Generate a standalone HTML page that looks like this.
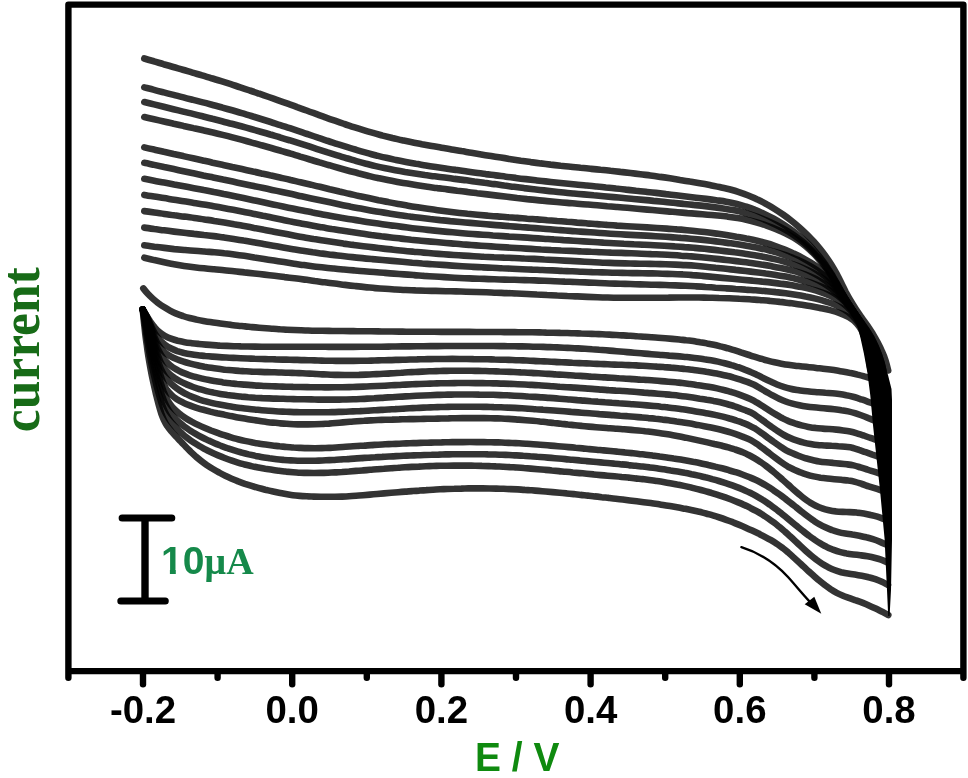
<!DOCTYPE html>
<html lang="en"><head><meta charset="utf-8"><title>Cyclic voltammograms</title>
<style>html,body{margin:0;padding:0;background:#fff}body{width:968px;height:778px;overflow:hidden}svg{display:block}</style>
</head><body>
<svg width="968" height="778" viewBox="0 0 968 778">
<rect width="968" height="778" fill="#fff"/>
<g fill="none" stroke="#000" stroke-opacity="0.8" stroke-width="6.6" stroke-linecap="round" stroke-linejoin="round">
<path d="M144.3 58.5C145.9 59 150.7 60.4 153.9 61.3C157.1 62.3 160.3 63.2 163.5 64.2C166.7 65.1 169.9 66 173.2 67C176.4 67.9 179.6 68.9 182.8 69.8C186 70.7 189.2 71.7 192.4 72.6C195.6 73.5 198.8 74.5 202 75.4C205.2 76.4 208.4 77.3 211.6 78.3C214.8 79.2 218 80.2 221.2 81.2C224.4 82.2 227.6 83.2 230.8 84.2C234 85.2 237.1 86.3 240.3 87.3C243.5 88.3 246.7 89.4 249.8 90.5C253 91.5 256.1 92.6 259.3 93.7C262.5 94.8 265.6 95.9 268.8 97C271.9 98.1 275.1 99.2 278.2 100.3C281.4 101.4 284.5 102.5 287.7 103.7C290.8 104.8 294 105.9 297.1 107.1C300.3 108.2 303.4 109.4 306.6 110.5C309.7 111.7 312.9 112.8 316 113.9C319.1 115.1 322.3 116.2 325.4 117.3C328.6 118.5 331.7 119.6 334.9 120.7C338.1 121.8 341.2 122.9 344.4 124C347.6 125 350.7 126.1 353.9 127.1C357.1 128.1 360.3 129.1 363.5 130.1C366.7 131.1 369.9 132 373.1 132.9C376.3 133.9 379.5 134.7 382.7 135.6C386 136.4 389.2 137.2 392.4 138C395.7 138.7 398.9 139.5 402.2 140.2C405.5 140.9 408.7 141.6 412 142.2C415.3 142.9 418.6 143.5 421.9 144.2C425.1 144.8 428.4 145.4 431.7 146C435 146.6 438.3 147.1 441.6 147.7C444.9 148.3 448.2 148.8 451.5 149.4C454.8 150 458.1 150.5 461.4 151.1C464.7 151.6 468 152.2 471.3 152.7C474.6 153.3 477.9 153.9 481.2 154.4C484.5 155 487.8 155.5 491.1 156C494.4 156.6 497.7 157.1 501 157.6C504.3 158.2 507.6 158.7 510.9 159.2C514.2 159.7 517.5 160.2 520.8 160.7C524.1 161.1 527.4 161.6 530.7 162.1C534.1 162.5 537.4 162.9 540.7 163.4C544 163.8 547.3 164.2 550.6 164.6C553.9 164.9 557.3 165.3 560.6 165.7C563.9 166 567.2 166.4 570.6 166.7C573.9 167.1 577.2 167.4 580.5 167.8C583.9 168.1 587.2 168.4 590.5 168.8C593.8 169.1 597.2 169.4 600.5 169.8C603.8 170.1 607.1 170.4 610.5 170.8C613.8 171.1 617.1 171.5 620.4 171.9C623.7 172.2 627.1 172.6 630.4 173C633.7 173.4 637 173.8 640.3 174.2C643.7 174.6 647 175.1 650.3 175.5C653.6 175.9 656.9 176.4 660.2 176.9C663.5 177.3 666.8 177.8 670.1 178.3C673.4 178.8 676.7 179.3 680 179.9C683.3 180.4 686.6 180.9 689.9 181.5C693.2 182 696.5 182.6 699.8 183.2C703.1 183.8 706.4 184.4 709.7 185C713 185.7 716.3 186.3 719.5 187C722.8 187.8 726.1 188.5 729.3 189.3C732.5 190.2 735.7 191.1 738.9 192.1C742.1 193.2 745.2 194.3 748.3 195.5C751.4 196.8 754.5 198.1 757.5 199.6C760.5 201 763.5 202.5 766.4 204.2C769.3 205.8 772.2 207.5 775 209.2C777.9 211 780.7 212.9 783.4 214.8C786.1 216.7 788.8 218.7 791.4 220.8C794.1 222.9 796.6 225 799.1 227.2C801.7 229.5 804.1 231.7 806.5 234.1C808.9 236.4 811.2 238.9 813.5 241.3C815.7 243.8 817.9 246.3 820 248.9C822.1 251.5 824.2 254.2 826.1 256.9C828 259.6 829.9 262.3 831.7 265.2C833.4 268 835.1 270.9 836.7 273.9C838.2 276.8 839.7 279.8 841.2 282.8C842.7 285.8 844.1 288.8 845.6 291.8C847.2 294.7 848.8 297.7 850.5 300.5C852.2 303.4 854 306.2 855.8 309C857.6 311.8 859.6 314.5 861.5 317.3C863.4 320 865.4 322.7 867.3 325.4C869.2 328.2 871 331 872.8 333.8C874.5 336.7 876.2 339.6 877.7 342.5C879.3 345.5 880.7 348.4 882 351.5C883.4 354.5 884.6 357.6 885.6 360.8C886.6 364 887.8 368.9 888.2 370.5"/>
<path d="M144.3 87.4C145.9 87.8 150.8 89.1 154.1 89.9C157.3 90.8 160.6 91.6 163.8 92.4C167.1 93.3 170.3 94.1 173.6 94.9C176.8 95.8 180.1 96.6 183.4 97.4C186.6 98.3 189.9 99.1 193.1 99.9C196.4 100.7 199.6 101.6 202.9 102.4C206.2 103.2 209.4 104.1 212.7 105C215.9 105.8 219.1 106.7 222.4 107.6C225.6 108.5 228.9 109.4 232.1 110.3C235.3 111.2 238.5 112.2 241.8 113.1C245 114.1 248.2 115 251.4 116C254.6 117 257.8 118 261 119C264.3 120 267.5 121 270.7 122C273.9 123 277.1 124.1 280.3 125.1C283.5 126.1 286.7 127.2 289.9 128.2C293 129.3 296.2 130.4 299.4 131.4C302.6 132.5 305.8 133.6 309 134.6C312.2 135.7 315.4 136.8 318.6 137.9C321.8 138.9 325 140 328.1 141C331.3 142.1 334.5 143.1 337.7 144.2C340.9 145.2 344.1 146.2 347.4 147.2C350.6 148.2 353.8 149.2 357 150.1C360.2 151.1 363.5 152 366.7 152.9C369.9 153.8 373.2 154.6 376.4 155.5C379.7 156.3 382.9 157.1 386.2 157.8C389.5 158.6 392.8 159.3 396 160C399.3 160.7 402.6 161.3 405.9 161.9C409.2 162.6 412.5 163.2 415.8 163.8C419.2 164.3 422.5 164.9 425.8 165.4C429.1 166 432.4 166.5 435.8 167C439.1 167.5 442.4 168 445.7 168.5C449.1 169 452.4 169.5 455.7 169.9C459.1 170.4 462.4 170.9 465.7 171.3C469.1 171.8 472.4 172.3 475.7 172.7C479.1 173.2 482.4 173.6 485.7 174.1C489.1 174.5 492.4 175 495.7 175.4C499.1 175.8 502.4 176.3 505.7 176.7C509 177.1 512.4 177.5 515.7 177.9C519.1 178.4 522.4 178.8 525.7 179.1C529.1 179.5 532.4 179.9 535.7 180.3C539.1 180.7 542.4 181.1 545.7 181.4C549.1 181.8 552.4 182.1 555.8 182.5C559.1 182.8 562.5 183.2 565.8 183.5C569.1 183.8 572.5 184.2 575.8 184.5C579.2 184.8 582.5 185.2 585.9 185.5C589.2 185.8 592.6 186.1 595.9 186.5C599.2 186.8 602.6 187.1 605.9 187.5C609.3 187.8 612.6 188.1 616 188.5C619.3 188.8 622.6 189.2 626 189.6C629.3 189.9 632.7 190.3 636 190.7C639.3 191 642.7 191.4 646 191.8C649.4 192.2 652.7 192.6 656 192.9C659.4 193.3 662.7 193.7 666 194.1C669.4 194.5 672.7 194.9 676.1 195.3C679.4 195.7 682.7 196.1 686.1 196.5C689.4 196.9 692.7 197.3 696.1 197.7C699.4 198.1 702.8 198.5 706.1 198.9C709.5 199.3 712.8 199.7 716.1 200.2C719.5 200.7 722.8 201.1 726.1 201.7C729.4 202.3 732.7 203 736 203.7C739.2 204.5 742.4 205.4 745.6 206.5C748.8 207.5 752 208.6 755.1 209.9C758.2 211.1 761.3 212.5 764.3 213.9C767.4 215.4 770.4 216.9 773.3 218.5C776.3 220.2 779.2 221.9 782 223.6C784.9 225.4 787.7 227.3 790.4 229.2C793.2 231.2 795.9 233.2 798.5 235.4C801.1 237.5 803.6 239.7 806 242C808.5 244.3 810.8 246.8 813.1 249.2C815.4 251.7 817.5 254.3 819.6 256.9C821.7 259.6 823.7 262.3 825.7 265C827.6 267.8 829.4 270.6 831.2 273.5C832.9 276.4 834.5 279.4 836.2 282.3C837.8 285.2 839.3 288.2 841 291.2C842.6 294.1 844.2 297 846 299.9C847.7 302.8 849.6 305.6 851.4 308.4C853.3 311.2 855.3 313.9 857.3 316.6C859.2 319.3 861.2 322 863.1 324.8C865 327.6 866.9 330.3 868.7 333.2C870.4 336.1 872 339 873.5 342C875 345 876.3 348.1 877.5 351.2C878.7 354.3 879.8 357.5 880.8 360.7C881.8 363.9 882.9 368.9 883.3 370.5"/>
<path d="M144.3 102C145.9 102.4 150.8 103.6 154 104.4C157.3 105.2 160.5 106 163.7 106.8C167 107.6 170.2 108.4 173.4 109.2C176.7 110 179.9 110.8 183.2 111.6C186.4 112.4 189.6 113.1 192.9 113.9C196.1 114.7 199.4 115.5 202.6 116.3C205.8 117.1 209.1 117.9 212.3 118.8C215.5 119.6 218.8 120.4 222 121.2C225.2 122.1 228.4 122.9 231.7 123.8C234.9 124.6 238.1 125.5 241.3 126.3C244.5 127.2 247.8 128.1 251 129C254.2 129.9 257.4 130.8 260.6 131.7C263.8 132.6 267 133.5 270.2 134.5C273.4 135.4 276.6 136.4 279.8 137.3C283 138.3 286.2 139.3 289.4 140.2C292.6 141.2 295.8 142.2 298.9 143.2C302.1 144.2 305.3 145.2 308.5 146.2C311.7 147.3 314.9 148.3 318 149.3C321.2 150.3 324.4 151.3 327.6 152.4C330.8 153.4 333.9 154.4 337.1 155.4C340.3 156.4 343.5 157.3 346.7 158.3C349.9 159.2 353.1 160.2 356.3 161.1C359.5 162 362.7 162.9 366 163.7C369.2 164.5 372.4 165.4 375.6 166.1C378.9 166.9 382.1 167.6 385.4 168.3C388.6 169 391.9 169.6 395.2 170.2C398.5 170.8 401.7 171.4 405 172C408.3 172.5 411.6 173 414.9 173.5C418.2 174 421.5 174.5 424.8 175C428.1 175.4 431.4 175.9 434.7 176.3C438 176.7 441.4 177.2 444.7 177.6C448 178 451.3 178.4 454.6 178.9C457.9 179.3 461.2 179.7 464.6 180.1C467.9 180.6 471.2 181 474.5 181.5C477.8 181.9 481.1 182.3 484.4 182.8C487.7 183.2 491 183.7 494.3 184.1C497.6 184.6 500.9 185 504.2 185.5C507.5 185.9 510.8 186.4 514.1 186.8C517.5 187.2 520.8 187.6 524.1 188.1C527.4 188.5 530.7 188.9 534 189.3C537.3 189.7 540.6 190.1 543.9 190.4C547.2 190.8 550.5 191.2 553.9 191.5C557.2 191.9 560.5 192.2 563.8 192.5C567.1 192.9 570.5 193.2 573.8 193.5C577.1 193.8 580.4 194.1 583.7 194.4C587.1 194.7 590.4 195 593.7 195.3C597 195.6 600.3 195.9 603.7 196.2C607 196.5 610.3 196.8 613.6 197.1C616.9 197.4 620.3 197.7 623.6 198C626.9 198.3 630.2 198.7 633.6 199C636.9 199.3 640.2 199.6 643.5 199.9C646.8 200.2 650.1 200.5 653.5 200.9C656.8 201.2 660.1 201.5 663.4 201.8C666.7 202.2 670.1 202.5 673.4 202.8C676.7 203.2 680 203.5 683.3 203.9C686.6 204.2 690 204.5 693.3 204.9C696.6 205.2 699.9 205.6 703.2 205.9C706.6 206.3 709.9 206.7 713.2 207.1C716.5 207.5 719.8 207.9 723.1 208.4C726.4 208.9 729.7 209.4 733 210C736.2 210.7 739.5 211.4 742.7 212.2C745.9 213.1 749.1 214.1 752.3 215.1C755.5 216.2 758.6 217.3 761.7 218.5C764.8 219.8 767.9 221.1 770.9 222.5C774 223.9 777 225.3 779.9 226.9C782.9 228.5 785.8 230.1 788.6 231.8C791.5 233.6 794.2 235.4 796.9 237.4C799.6 239.3 802.2 241.4 804.8 243.6C807.3 245.8 809.7 248.1 812 250.4C814.4 252.8 816.6 255.3 818.8 257.8C821 260.4 823.1 263 825.1 265.7C827.1 268.4 829 271.1 830.8 273.9C832.6 276.8 834.4 279.6 836.1 282.5C837.8 285.4 839.3 288.4 841 291.3C842.7 294.2 844.3 297.1 846 299.9C847.7 302.8 849.5 305.6 851.4 308.3C853.2 311.1 855.2 313.8 857.1 316.6C859 319.3 860.9 322 862.8 324.8C864.6 327.6 866.4 330.3 868.1 333.2C869.7 336.1 871.3 339.1 872.7 342.1C874.1 345.1 875.3 348.2 876.5 351.3C877.6 354.4 878.6 357.6 879.6 360.8C880.5 364 881.6 368.9 882 370.5"/>
<path d="M144.3 117C145.9 117.4 150.8 118.5 154.1 119.2C157.4 120 160.6 120.7 163.9 121.5C167.2 122.2 170.5 122.9 173.7 123.7C177 124.4 180.3 125.1 183.5 125.9C186.8 126.6 190.1 127.3 193.4 128.1C196.6 128.8 199.9 129.5 203.2 130.3C206.4 131 209.7 131.8 213 132.5C216.2 133.3 219.5 134.1 222.7 134.9C226 135.7 229.2 136.5 232.5 137.4C235.7 138.2 239 139.1 242.2 139.9C245.4 140.8 248.7 141.7 251.9 142.6C255.1 143.4 258.4 144.3 261.6 145.3C264.8 146.2 268 147.1 271.3 148C274.5 149 277.7 149.9 280.9 150.8C284.1 151.8 287.4 152.7 290.6 153.7C293.8 154.7 297 155.6 300.2 156.6C303.4 157.5 306.7 158.5 309.9 159.5C313.1 160.4 316.3 161.4 319.5 162.4C322.7 163.3 325.9 164.3 329.2 165.2C332.4 166.2 335.6 167.1 338.8 168C342.1 168.9 345.3 169.8 348.5 170.7C351.8 171.6 355 172.4 358.2 173.3C361.5 174.1 364.7 174.9 368 175.7C371.3 176.5 374.5 177.3 377.8 178C381.1 178.7 384.3 179.4 387.6 180C390.9 180.7 394.2 181.3 397.5 181.9C400.8 182.5 404.1 183.1 407.4 183.6C410.7 184.2 414 184.7 417.3 185.2C420.6 185.7 424 186.2 427.3 186.7C430.6 187.2 433.9 187.6 437.2 188.1C440.6 188.5 443.9 189 447.2 189.4C450.6 189.8 453.9 190.2 457.2 190.7C460.5 191.1 463.9 191.5 467.2 191.9C470.5 192.4 473.9 192.8 477.2 193.2C480.5 193.6 483.8 194 487.2 194.4C490.5 194.8 493.8 195.2 497.2 195.6C500.5 196 503.8 196.4 507.1 196.8C510.5 197.2 513.8 197.6 517.1 198C520.5 198.3 523.8 198.7 527.1 199.1C530.5 199.4 533.8 199.8 537.1 200.1C540.5 200.4 543.8 200.8 547.1 201.1C550.5 201.4 553.8 201.7 557.1 202C560.5 202.3 563.8 202.6 567.2 202.9C570.5 203.2 573.8 203.4 577.2 203.7C580.5 204 583.9 204.3 587.2 204.5C590.6 204.8 593.9 205.1 597.2 205.3C600.6 205.6 603.9 205.9 607.3 206.2C610.6 206.4 613.9 206.7 617.3 207C620.6 207.3 624 207.6 627.3 207.8C630.6 208.1 634 208.4 637.3 208.7C640.7 209 644 209.3 647.3 209.6C650.7 209.9 654 210.2 657.4 210.5C660.7 210.8 664 211.1 667.4 211.4C670.7 211.7 674.1 211.9 677.4 212.2C680.7 212.5 684.1 212.8 687.4 213.1C690.8 213.3 694.1 213.6 697.4 213.9C700.8 214.2 704.1 214.4 707.5 214.7C710.8 214.9 714.2 215.2 717.5 215.5C720.9 215.8 724.2 216.1 727.5 216.6C730.8 217 734.2 217.4 737.5 218C740.8 218.5 744.1 219.2 747.3 220C750.6 220.7 753.8 221.6 757 222.5C760.3 223.5 763.5 224.5 766.6 225.6C769.8 226.7 773 227.9 776.1 229.2C779.2 230.5 782.3 231.8 785.3 233.3C788.3 234.8 791.2 236.3 794.1 238C797 239.8 799.7 241.6 802.4 243.6C805 245.6 807.6 247.8 810 250C812.5 252.3 814.8 254.7 817.1 257.2C819.3 259.7 821.5 262.3 823.6 264.9C825.6 267.6 827.6 270.3 829.6 273.1C831.5 275.9 833.3 278.8 835.1 281.7C836.9 284.5 838.6 287.5 840.4 290.4C842.1 293.3 843.7 296.2 845.5 299C847.2 301.9 849 304.8 850.8 307.6C852.7 310.4 854.6 313.1 856.5 315.9C858.3 318.7 860.2 321.5 862 324.3C863.8 327.1 865.6 329.9 867.2 332.8C868.9 335.8 870.4 338.8 871.7 341.8C873.1 344.8 874.3 348 875.4 351.1C876.5 354.3 877.5 357.5 878.4 360.7C879.3 363.9 880.4 368.9 880.8 370.5"/>
<path d="M144.3 147.4C145.9 147.8 150.8 148.9 154.1 149.6C157.3 150.3 160.6 151 163.8 151.8C167.1 152.5 170.3 153.2 173.6 154C176.8 154.7 180.1 155.4 183.3 156.1C186.6 156.9 189.8 157.6 193.1 158.3C196.4 159.1 199.6 159.8 202.9 160.5C206.1 161.2 209.4 161.9 212.6 162.7C215.9 163.4 219.1 164.1 222.4 164.8C225.6 165.5 228.9 166.2 232.2 167C235.4 167.7 238.7 168.4 241.9 169.1C245.2 169.8 248.4 170.5 251.7 171.2C255 172 258.2 172.7 261.5 173.4C264.7 174.1 268 174.8 271.2 175.6C274.5 176.3 277.7 177 281 177.8C284.2 178.5 287.5 179.2 290.7 180C294 180.7 297.2 181.5 300.5 182.2C303.7 183 307 183.8 310.2 184.5C313.5 185.3 316.7 186.1 320 186.8C323.2 187.6 326.4 188.4 329.7 189.2C332.9 189.9 336.2 190.7 339.4 191.5C342.7 192.2 345.9 193 349.2 193.7C352.4 194.5 355.7 195.2 358.9 196C362.2 196.7 365.4 197.4 368.7 198.1C371.9 198.8 375.2 199.5 378.5 200.2C381.7 200.8 385 201.5 388.3 202.1C391.5 202.8 394.8 203.4 398.1 204C401.4 204.6 404.7 205.1 408 205.7C411.2 206.3 414.5 206.8 417.8 207.3C421.1 207.9 424.4 208.4 427.7 208.8C431 209.3 434.3 209.8 437.6 210.2C440.9 210.7 444.2 211.1 447.5 211.5C450.9 211.9 454.2 212.3 457.5 212.7C460.8 213.1 464.1 213.4 467.4 213.8C470.7 214.1 474.1 214.4 477.4 214.7C480.7 215 484 215.3 487.3 215.6C490.7 215.9 494 216.2 497.3 216.4C500.6 216.7 504 216.9 507.3 217.2C510.6 217.4 513.9 217.7 517.3 217.9C520.6 218.2 523.9 218.4 527.2 218.7C530.6 218.9 533.9 219.2 537.2 219.4C540.5 219.7 543.9 219.9 547.2 220.2C550.5 220.4 553.8 220.7 557.1 221C560.5 221.2 563.8 221.5 567.1 221.8C570.4 222 573.8 222.3 577.1 222.6C580.4 222.8 583.7 223.1 587.1 223.4C590.4 223.6 593.7 223.9 597 224.1C600.4 224.4 603.7 224.6 607 224.9C610.3 225.1 613.7 225.3 617 225.6C620.3 225.8 623.6 226 627 226.2C630.3 226.4 633.6 226.6 637 226.8C640.3 227 643.6 227.2 646.9 227.4C650.3 227.6 653.6 227.8 656.9 228C660.3 228.2 663.6 228.4 666.9 228.6C670.2 228.9 673.6 229.1 676.9 229.4C680.2 229.6 683.5 229.9 686.8 230.2C690.2 230.5 693.5 230.8 696.8 231.2C700.1 231.6 703.4 231.9 706.7 232.3C710 232.8 713.3 233.2 716.6 233.6C719.9 234.1 723.3 234.6 726.5 235.1C729.8 235.6 733.1 236.1 736.4 236.7C739.7 237.2 743 237.8 746.3 238.5C749.5 239.1 752.8 239.8 756.1 240.5C759.3 241.3 762.5 242.1 765.7 243C769 243.9 772.1 244.9 775.3 246C778.5 247.1 781.6 248.2 784.7 249.5C787.8 250.8 790.8 252.1 793.8 253.6C796.9 255 799.9 256.5 802.8 258.1C805.7 259.7 808.7 261.3 811.5 263.1C814.3 264.8 817 266.7 819.7 268.7C822.3 270.8 824.8 273 827.1 275.3C829.5 277.6 831.7 280.1 833.9 282.6C836 285.1 838 287.8 839.9 290.5C841.9 293.3 843.6 296.1 845.4 298.9C847.3 301.7 849 304.5 850.8 307.3C852.7 310.1 854.5 312.9 856.3 315.7C858.1 318.5 860 321.3 861.7 324.1C863.5 327 865.1 329.9 866.7 332.8C868.2 335.8 869.6 338.8 870.9 341.8C872.2 344.9 873.3 348 874.4 351.2C875.4 354.3 876.4 357.5 877.3 360.7C878.1 364 879.1 368.9 879.5 370.5"/>
<path d="M144.3 162.8C145.9 163.1 150.9 164.2 154.1 164.9C157.4 165.6 160.7 166.3 164 167C167.2 167.7 170.5 168.4 173.8 169.1C177.1 169.8 180.3 170.5 183.6 171.2C186.9 171.9 190.2 172.6 193.5 173.3C196.7 174 200 174.7 203.3 175.4C206.6 176 209.8 176.7 213.1 177.4C216.4 178.1 219.7 178.8 223 179.5C226.2 180.2 229.5 180.9 232.8 181.6C236.1 182.3 239.3 183 242.6 183.7C245.9 184.4 249.2 185.1 252.5 185.8C255.7 186.5 259 187.2 262.3 187.8C265.6 188.5 268.8 189.2 272.1 189.9C275.4 190.6 278.7 191.3 282 192C285.2 192.7 288.5 193.4 291.8 194.1C295.1 194.8 298.3 195.6 301.6 196.3C304.9 197 308.2 197.7 311.4 198.4C314.7 199.1 318 199.8 321.3 200.5C324.5 201.2 327.8 201.9 331.1 202.6C334.4 203.3 337.7 204 340.9 204.7C344.2 205.4 347.5 206 350.8 206.7C354.1 207.3 357.4 208 360.7 208.6C363.9 209.2 367.2 209.8 370.5 210.4C373.8 211 377.1 211.6 380.4 212.1C383.7 212.7 387.1 213.2 390.4 213.7C393.7 214.2 397 214.7 400.3 215.2C403.6 215.7 406.9 216.1 410.3 216.6C413.6 217 416.9 217.4 420.2 217.8C423.6 218.2 426.9 218.6 430.2 219C433.6 219.3 436.9 219.7 440.2 220.1C443.6 220.4 446.9 220.7 450.2 221.1C453.6 221.4 456.9 221.7 460.2 222C463.6 222.3 466.9 222.6 470.3 222.9C473.6 223.2 476.9 223.5 480.3 223.8C483.6 224.1 486.9 224.4 490.3 224.6C493.6 224.9 497 225.2 500.3 225.4C503.6 225.7 507 226 510.3 226.2C513.7 226.5 517 226.7 520.4 227C523.7 227.3 527 227.5 530.4 227.8C533.7 228 537.1 228.3 540.4 228.5C543.7 228.8 547.1 229.1 550.4 229.3C553.8 229.6 557.1 229.8 560.4 230.1C563.8 230.4 567.1 230.6 570.5 230.9C573.8 231.1 577.1 231.4 580.5 231.6C583.8 231.9 587.2 232.1 590.5 232.3C593.8 232.6 597.2 232.8 600.5 233C603.9 233.3 607.2 233.5 610.6 233.7C613.9 233.9 617.3 234.1 620.6 234.3C623.9 234.5 627.3 234.7 630.6 234.9C634 235.1 637.3 235.2 640.7 235.4C644 235.6 647.4 235.8 650.7 235.9C654.1 236.1 657.4 236.3 660.8 236.5C664.1 236.7 667.5 236.9 670.8 237.1C674.1 237.4 677.5 237.6 680.8 237.9C684.2 238.1 687.5 238.4 690.8 238.7C694.2 239 697.5 239.3 700.8 239.6C704.2 240 707.5 240.4 710.8 240.8C714.1 241.2 717.5 241.6 720.8 242C724.1 242.4 727.4 242.9 730.8 243.3C734.1 243.8 737.4 244.3 740.7 244.8C744 245.3 747.3 245.9 750.6 246.5C753.9 247.1 757.2 247.7 760.5 248.4C763.8 249.1 767 249.9 770.3 250.7C773.5 251.6 776.8 252.5 780 253.5C783.2 254.5 786.4 255.5 789.5 256.7C792.7 257.8 795.8 259.1 798.9 260.4C801.9 261.8 805 263.2 807.9 264.8C810.9 266.4 813.8 268.1 816.5 269.9C819.3 271.8 822 273.8 824.6 275.9C827.1 278 829.6 280.3 831.9 282.7C834.3 285.1 836.5 287.6 838.6 290.2C840.7 292.8 842.7 295.5 844.7 298.2C846.6 301 848.4 303.8 850.3 306.6C852.1 309.4 854 312.2 855.8 315.1C857.6 317.9 859.4 320.7 861.1 323.6C862.7 326.5 864.4 329.4 865.9 332.4C867.4 335.4 868.7 338.4 870 341.5C871.2 344.6 872.3 347.8 873.3 351C874.3 354.2 875.2 357.4 876 360.7C876.9 363.9 877.9 368.9 878.2 370.5"/>
<path d="M144.3 178.8C146 179.1 150.9 180.1 154.2 180.7C157.5 181.3 160.8 182 164.1 182.6C167.4 183.2 170.8 183.8 174.1 184.5C177.4 185.1 180.7 185.7 184 186.3C187.3 187 190.6 187.6 193.9 188.2C197.2 188.8 200.5 189.4 203.8 190.1C207.1 190.7 210.5 191.3 213.8 192C217.1 192.6 220.4 193.3 223.7 194C227 194.6 230.3 195.3 233.6 196C236.9 196.7 240.1 197.4 243.4 198.1C246.7 198.8 250 199.5 253.3 200.2C256.6 200.9 259.9 201.6 263.2 202.3C266.5 203 269.8 203.7 273.1 204.4C276.4 205.1 279.7 205.8 283 206.5C286.2 207.2 289.5 207.9 292.8 208.5C296.1 209.2 299.4 209.9 302.7 210.5C306 211.2 309.3 211.8 312.7 212.5C316 213.1 319.3 213.8 322.6 214.4C325.9 215 329.2 215.6 332.5 216.2C335.8 216.8 339.1 217.4 342.5 217.9C345.8 218.5 349.1 219.1 352.4 219.6C355.7 220.2 359.1 220.7 362.4 221.2C365.7 221.8 369 222.3 372.4 222.8C375.7 223.3 379 223.8 382.4 224.2C385.7 224.7 389 225.2 392.4 225.6C395.7 226.1 399 226.5 402.4 226.9C405.7 227.3 409.1 227.8 412.4 228.2C415.8 228.6 419.1 228.9 422.5 229.3C425.8 229.7 429.1 230 432.5 230.4C435.8 230.7 439.2 231.1 442.5 231.4C445.9 231.7 449.2 232 452.6 232.3C456 232.6 459.3 232.9 462.7 233.2C466 233.5 469.4 233.8 472.7 234C476.1 234.3 479.4 234.5 482.8 234.8C486.2 235 489.5 235.2 492.9 235.5C496.2 235.7 499.6 235.9 503 236.1C506.3 236.4 509.7 236.6 513 236.8C516.4 237 519.8 237.2 523.1 237.4C526.5 237.7 529.8 237.9 533.2 238.1C536.6 238.3 539.9 238.5 543.3 238.7C546.6 238.9 550 239.2 553.4 239.4C556.7 239.6 560.1 239.8 563.4 240.1C566.8 240.3 570.1 240.5 573.5 240.7C576.9 241 580.2 241.2 583.6 241.4C586.9 241.6 590.3 241.8 593.7 242C597 242.3 600.4 242.5 603.7 242.7C607.1 242.9 610.5 243.1 613.8 243.2C617.2 243.4 620.6 243.6 623.9 243.8C627.3 243.9 630.6 244.1 634 244.3C637.4 244.4 640.7 244.6 644.1 244.7C647.5 244.9 650.8 245.1 654.2 245.2C657.6 245.4 660.9 245.6 664.3 245.8C667.6 246 671 246.2 674.4 246.4C677.7 246.6 681.1 246.8 684.4 247.1C687.8 247.3 691.1 247.6 694.5 247.9C697.8 248.2 701.2 248.5 704.5 248.8C707.9 249.2 711.2 249.5 714.6 249.9C717.9 250.3 721.3 250.7 724.6 251.1C728 251.5 731.3 251.9 734.6 252.3C738 252.7 741.3 253.2 744.7 253.7C748 254.2 751.3 254.7 754.6 255.2C758 255.8 761.3 256.4 764.6 257C767.9 257.7 771.2 258.4 774.5 259.1C777.8 259.9 781 260.7 784.3 261.7C787.5 262.6 790.7 263.6 793.9 264.7C797.1 265.8 800.3 267 803.4 268.3C806.5 269.6 809.6 271 812.5 272.5C815.5 274.1 818.4 275.7 821.2 277.6C824 279.4 826.7 281.4 829.3 283.6C831.9 285.7 834.4 288 836.8 290.4C839.2 292.8 841.4 295.3 843.6 297.9C845.7 300.5 847.7 303.2 849.7 306C851.6 308.7 853.5 311.5 855.3 314.4C857.1 317.2 858.9 320.1 860.6 323C862.2 326 863.8 328.9 865.2 332C866.6 335 867.9 338.1 869.1 341.3C870.2 344.4 871.3 347.6 872.2 350.8C873.2 354.1 874.1 357.3 874.9 360.6C875.6 363.9 876.6 368.8 876.9 370.5"/>
<path d="M144.3 194.9C145.9 195.2 150.9 196 154.2 196.5C157.5 197 160.8 197.6 164.1 198.1C167.4 198.6 170.7 199.2 174 199.7C177.3 200.2 180.6 200.8 183.9 201.3C187.2 201.8 190.5 202.4 193.8 202.9C197.1 203.4 200.4 204 203.7 204.5C207 205.1 210.3 205.6 213.6 206.2C216.9 206.8 220.1 207.4 223.4 208C226.7 208.6 230 209.2 233.3 209.8C236.6 210.5 239.8 211.1 243.1 211.8C246.4 212.4 249.7 213.1 252.9 213.7C256.2 214.4 259.5 215.1 262.8 215.8C266 216.4 269.3 217.1 272.6 217.8C275.9 218.5 279.1 219.1 282.4 219.8C285.7 220.5 289 221.1 292.2 221.8C295.5 222.4 298.8 223.1 302.1 223.7C305.4 224.3 308.6 224.9 311.9 225.5C315.2 226.1 318.5 226.7 321.8 227.3C325.1 227.9 328.4 228.4 331.7 229C335 229.5 338.3 230.1 341.6 230.6C344.9 231.1 348.2 231.6 351.5 232.1C354.8 232.6 358.1 233.1 361.4 233.6C364.7 234.1 368 234.5 371.3 235C374.7 235.4 378 235.8 381.3 236.3C384.6 236.7 387.9 237.1 391.2 237.5C394.6 237.9 397.9 238.2 401.2 238.6C404.5 239 407.8 239.3 411.2 239.7C414.5 240 417.8 240.4 421.1 240.7C424.5 241 427.8 241.3 431.1 241.6C434.4 241.9 437.8 242.2 441.1 242.5C444.4 242.8 447.8 243.1 451.1 243.4C454.4 243.7 457.8 243.9 461.1 244.2C464.4 244.5 467.8 244.7 471.1 245C474.4 245.2 477.8 245.5 481.1 245.7C484.4 245.9 487.8 246.2 491.1 246.4C494.4 246.6 497.8 246.9 501.1 247.1C504.4 247.3 507.8 247.5 511.1 247.7C514.4 247.9 517.8 248.1 521.1 248.3C524.4 248.5 527.8 248.7 531.1 248.9C534.4 249.1 537.8 249.3 541.1 249.5C544.5 249.6 547.8 249.8 551.1 250C554.5 250.1 557.8 250.3 561.1 250.5C564.5 250.6 567.8 250.8 571.2 250.9C574.5 251.1 577.8 251.2 581.2 251.4C584.5 251.5 587.8 251.6 591.2 251.8C594.5 251.9 597.9 252.1 601.2 252.2C604.5 252.3 607.9 252.4 611.2 252.6C614.6 252.7 617.9 252.8 621.2 252.9C624.6 253.1 627.9 253.2 631.3 253.3C634.6 253.4 638 253.5 641.3 253.7C644.6 253.8 648 253.9 651.3 254.1C654.7 254.2 658 254.4 661.3 254.5C664.7 254.7 668 254.9 671.3 255C674.7 255.2 678 255.4 681.3 255.7C684.7 255.9 688 256.2 691.3 256.4C694.7 256.7 698 257 701.3 257.3C704.6 257.6 708 258 711.3 258.3C714.6 258.7 717.9 259 721.3 259.4C724.6 259.8 727.9 260.1 731.2 260.5C734.5 260.9 737.9 261.3 741.2 261.7C744.5 262.1 747.8 262.6 751.1 263C754.4 263.5 757.7 264 761 264.5C764.4 265 767.7 265.5 771 266.1C774.2 266.7 777.5 267.3 780.8 268C784.1 268.7 787.4 269.4 790.6 270.2C793.8 271.1 797.1 272 800.3 273C803.4 274 806.6 275.1 809.7 276.4C812.8 277.7 815.8 279 818.8 280.6C821.7 282.2 824.6 283.9 827.4 285.7C830.2 287.6 832.8 289.6 835.4 291.8C838 293.9 840.4 296.2 842.7 298.6C845 301.1 847.2 303.6 849.3 306.2C851.4 308.9 853.3 311.6 855.1 314.4C856.9 317.2 858.7 320.1 860.3 323.1C861.9 326 863.4 329 864.7 332C866 335.1 867.2 338.2 868.3 341.3C869.4 344.5 870.3 347.7 871.2 350.9C872.1 354.1 872.9 357.4 873.7 360.6C874.4 363.9 875.3 368.9 875.7 370.5"/>
<path d="M144.3 211.1C146 211.3 151 212 154.3 212.5C157.6 213 160.9 213.4 164.3 213.9C167.6 214.4 170.9 214.8 174.3 215.3C177.6 215.7 180.9 216.2 184.3 216.6C187.6 217.1 190.9 217.5 194.3 218C197.6 218.5 200.9 218.9 204.3 219.4C207.6 219.9 210.9 220.3 214.2 220.9C217.6 221.4 220.9 221.9 224.2 222.4C227.5 223 230.8 223.6 234.1 224.2C237.4 224.7 240.7 225.4 244.1 226C247.4 226.6 250.7 227.2 254 227.9C257.3 228.5 260.6 229.1 263.9 229.8C267.2 230.4 270.5 231.1 273.8 231.7C277.1 232.4 280.4 233 283.7 233.6C287 234.3 290.3 234.9 293.6 235.5C296.9 236.1 300.2 236.7 303.5 237.3C306.8 237.9 310.1 238.4 313.5 239C316.8 239.5 320.1 240.1 323.4 240.6C326.7 241.1 330.1 241.6 333.4 242.1C336.7 242.6 340 243.1 343.4 243.6C346.7 244 350 244.5 353.4 244.9C356.7 245.4 360 245.8 363.4 246.2C366.7 246.6 370.1 247 373.4 247.4C376.7 247.8 380.1 248.2 383.4 248.6C386.8 249 390.1 249.3 393.4 249.7C396.8 250.1 400.1 250.4 403.5 250.7C406.8 251.1 410.2 251.4 413.5 251.7C416.9 252 420.2 252.4 423.6 252.6C426.9 252.9 430.3 253.2 433.6 253.5C437 253.8 440.3 254 443.7 254.3C447 254.5 450.4 254.8 453.7 255C457.1 255.2 460.4 255.4 463.8 255.6C467.2 255.8 470.5 256 473.9 256.2C477.2 256.4 480.6 256.5 484 256.7C487.3 256.8 490.7 257 494 257.2C497.4 257.3 500.7 257.4 504.1 257.6C507.5 257.7 510.8 257.9 514.2 258C517.5 258.2 520.9 258.3 524.3 258.5C527.6 258.6 531 258.8 534.3 258.9C537.7 259.1 541.1 259.3 544.4 259.5C547.8 259.6 551.1 259.8 554.5 260C557.8 260.2 561.2 260.4 564.6 260.6C567.9 260.8 571.3 261 574.6 261.1C578 261.3 581.3 261.5 584.7 261.7C588.1 261.9 591.4 262.1 594.8 262.2C598.1 262.4 601.5 262.5 604.8 262.7C608.2 262.8 611.6 263 614.9 263.1C618.3 263.2 621.7 263.3 625 263.4C628.4 263.5 631.7 263.5 635.1 263.6C638.5 263.7 641.8 263.7 645.2 263.8C648.6 263.9 651.9 263.9 655.3 264C658.7 264.1 662 264.2 665.4 264.3C668.7 264.4 672.1 264.5 675.5 264.6C678.8 264.8 682.2 264.9 685.5 265.1C688.9 265.3 692.2 265.5 695.6 265.8C698.9 266.1 702.3 266.4 705.6 266.7C709 267 712.3 267.4 715.6 267.8C719 268.1 722.3 268.5 725.7 268.8C729 269.2 732.4 269.5 735.7 269.9C739.1 270.2 742.4 270.6 745.7 271C749.1 271.4 752.4 271.8 755.8 272.2C759.1 272.6 762.4 273 765.8 273.5C769.1 273.9 772.4 274.4 775.8 274.9C779.1 275.4 782.4 276 785.7 276.6C789 277.3 792.3 277.9 795.6 278.7C798.9 279.5 802.2 280.3 805.4 281.3C808.6 282.2 811.9 283.2 815.1 284.4C818.2 285.5 821.4 286.7 824.5 288.1C827.5 289.5 830.5 291 833.4 292.8C836.2 294.5 838.9 296.4 841.4 298.6C844 300.7 846.3 303.2 848.4 305.7C850.6 308.2 852.6 310.9 854.5 313.7C856.4 316.5 858.1 319.4 859.6 322.4C861.2 325.4 862.7 328.5 863.9 331.6C865.2 334.7 866.4 337.8 867.4 341C868.4 344.2 869.3 347.5 870.2 350.7C871 354 871.8 357.3 872.5 360.6C873.2 363.9 874.1 368.8 874.4 370.5"/>
<path d="M144.3 227.6C146 227.8 150.9 228.5 154.2 229C157.5 229.4 160.8 229.9 164.1 230.3C167.5 230.8 170.8 231.2 174.1 231.6C177.4 232 180.7 232.4 184 232.8C187.3 233.2 190.7 233.5 194 233.9C197.3 234.2 200.6 234.6 203.9 235C207.2 235.3 210.6 235.7 213.9 236.1C217.2 236.5 220.5 237 223.8 237.4C227.1 237.9 230.4 238.4 233.7 238.9C237 239.4 240.3 239.9 243.6 240.5C246.9 241 250.2 241.6 253.4 242.2C256.7 242.8 260 243.4 263.3 244C266.6 244.6 269.9 245.2 273.2 245.7C276.5 246.3 279.7 246.9 283 247.5C286.3 248.1 289.6 248.7 292.9 249.2C296.2 249.7 299.5 250.3 302.8 250.8C306.1 251.3 309.4 251.8 312.7 252.3C316 252.7 319.3 253.2 322.6 253.6C325.9 254 329.2 254.5 332.6 254.9C335.9 255.3 339.2 255.6 342.5 256C345.8 256.4 349.1 256.8 352.5 257.1C355.8 257.5 359.1 257.8 362.4 258.1C365.7 258.5 369.1 258.8 372.4 259.1C375.7 259.4 379 259.7 382.4 260C385.7 260.3 389 260.6 392.3 260.9C395.7 261.2 399 261.5 402.3 261.8C405.6 262.1 409 262.4 412.3 262.7C415.6 262.9 419 263.2 422.3 263.5C425.6 263.7 428.9 264 432.3 264.2C435.6 264.5 438.9 264.7 442.3 264.9C445.6 265.2 448.9 265.4 452.2 265.6C455.6 265.8 458.9 266 462.2 266.2C465.6 266.4 468.9 266.6 472.2 266.8C475.6 267 478.9 267.2 482.2 267.3C485.6 267.5 488.9 267.7 492.2 267.8C495.6 268 498.9 268.1 502.2 268.3C505.6 268.4 508.9 268.6 512.2 268.7C515.6 268.9 518.9 269 522.3 269.2C525.6 269.3 528.9 269.4 532.3 269.6C535.6 269.7 538.9 269.9 542.3 270C545.6 270.2 548.9 270.3 552.3 270.4C555.6 270.6 558.9 270.7 562.3 270.9C565.6 271 568.9 271.2 572.3 271.3C575.6 271.4 578.9 271.6 582.3 271.7C585.6 271.8 589 271.9 592.3 272.1C595.6 272.2 599 272.3 602.3 272.4C605.6 272.5 609 272.6 612.3 272.7C615.7 272.8 619 272.8 622.3 272.9C625.7 273 629 273 632.3 273.1C635.7 273.1 639 273.2 642.4 273.2C645.7 273.3 649.1 273.4 652.4 273.4C655.7 273.5 659.1 273.6 662.4 273.7C665.7 273.8 669.1 273.9 672.4 274C675.7 274.1 679.1 274.3 682.4 274.4C685.7 274.6 689.1 274.8 692.4 275.1C695.7 275.3 699 275.6 702.4 275.9C705.7 276.2 709 276.6 712.3 276.9C715.6 277.2 719 277.6 722.3 277.9C725.6 278.2 728.9 278.5 732.3 278.8C735.6 279.1 738.9 279.4 742.2 279.7C745.6 280 748.9 280.3 752.2 280.6C755.5 280.9 758.9 281.2 762.2 281.6C765.5 281.9 768.8 282.2 772.1 282.6C775.5 283 778.8 283.4 782.1 283.9C785.4 284.3 788.7 284.8 792 285.3C795.3 285.9 798.6 286.4 801.9 287.1C805.2 287.8 808.5 288.5 811.7 289.4C815 290.2 818.2 291.2 821.4 292.3C824.5 293.3 827.7 294.5 830.7 295.9C833.7 297.3 836.7 298.9 839.4 300.7C842.2 302.5 844.8 304.6 847.2 306.8C849.6 309.1 851.9 311.6 853.9 314.2C855.9 316.8 857.7 319.6 859.3 322.5C861 325.4 862.3 328.5 863.5 331.6C864.8 334.6 865.8 337.9 866.7 341.1C867.7 344.3 868.4 347.5 869.2 350.8C870 354.1 870.7 357.3 871.3 360.6C872 363.9 872.8 368.9 873.1 370.5"/>
<path d="M144.3 245.3C146 245.5 150.9 246.2 154.3 246.7C157.6 247.1 160.9 247.5 164.2 247.9C167.6 248.3 170.9 248.7 174.2 249.1C177.6 249.4 180.9 249.7 184.2 250C187.6 250.3 190.9 250.6 194.3 250.8C197.6 251.1 201 251.3 204.3 251.5C207.6 251.8 211 252 214.3 252.3C217.7 252.6 221 252.9 224.3 253.3C227.7 253.6 231 254 234.3 254.5C237.6 254.9 241 255.4 244.3 255.8C247.6 256.3 250.9 256.8 254.2 257.4C257.5 257.9 260.8 258.4 264.1 258.9C267.5 259.5 270.8 260 274.1 260.5C277.4 261.1 280.7 261.6 284 262.1C287.3 262.7 290.6 263.2 294 263.7C297.3 264.2 300.6 264.6 303.9 265.1C307.2 265.5 310.6 266 313.9 266.4C317.2 266.8 320.6 267.1 323.9 267.5C327.2 267.9 330.6 268.2 333.9 268.5C337.2 268.9 340.6 269.2 343.9 269.5C347.2 269.8 350.6 270.1 353.9 270.4C357.3 270.7 360.6 271 364 271.2C367.3 271.5 370.6 271.8 374 272C377.3 272.3 380.7 272.6 384 272.8C387.4 273.1 390.7 273.4 394 273.6C397.4 273.9 400.7 274.1 404.1 274.4C407.4 274.7 410.8 274.9 414.1 275.1C417.4 275.4 420.8 275.6 424.1 275.9C427.5 276.1 430.8 276.3 434.2 276.5C437.5 276.7 440.9 276.9 444.2 277.1C447.6 277.3 450.9 277.5 454.2 277.7C457.6 277.9 460.9 278 464.3 278.2C467.6 278.3 471 278.5 474.3 278.6C477.7 278.7 481 278.8 484.4 278.9C487.7 279.1 491.1 279.2 494.4 279.3C497.8 279.4 501.1 279.5 504.5 279.6C507.8 279.7 511.2 279.7 514.6 279.8C517.9 279.9 521.3 280 524.6 280.1C528 280.2 531.3 280.3 534.7 280.4C538 280.6 541.4 280.7 544.7 280.8C548.1 280.9 551.4 281 554.8 281.2C558.1 281.3 561.5 281.4 564.8 281.6C568.2 281.7 571.5 281.9 574.9 282C578.2 282.1 581.6 282.3 584.9 282.4C588.3 282.6 591.6 282.7 595 282.8C598.3 283 601.7 283.1 605 283.2C608.4 283.4 611.7 283.5 615.1 283.6C618.4 283.7 621.8 283.8 625.1 283.9C628.5 284 631.8 284.1 635.2 284.2C638.5 284.3 641.9 284.4 645.2 284.5C648.6 284.6 651.9 284.7 655.3 284.7C658.6 284.8 662 284.9 665.3 285C668.7 285.2 672 285.3 675.4 285.4C678.7 285.5 682.1 285.7 685.4 285.8C688.8 286 692.1 286.1 695.5 286.3C698.8 286.5 702.2 286.7 705.5 287C708.9 287.2 712.2 287.4 715.5 287.7C718.9 287.9 722.2 288.1 725.6 288.3C728.9 288.5 732.3 288.7 735.6 289C739 289.2 742.3 289.4 745.6 289.6C749 289.8 752.3 290.1 755.7 290.3C759 290.6 762.4 290.8 765.7 291.1C769 291.4 772.4 291.7 775.7 292.1C779 292.4 782.4 292.8 785.7 293.2C789 293.7 792.4 294.2 795.7 294.7C799 295.2 802.3 295.8 805.6 296.5C808.9 297.1 812.2 297.8 815.5 298.6C818.8 299.4 822.1 300.3 825.3 301.3C828.6 302.3 831.8 303.4 834.9 304.7C838 306 841 307.5 843.8 309.3C846.6 311 849.4 312.9 851.8 315.1C854.2 317.4 856.3 319.8 858.2 322.5C860 325.2 861.5 328.2 862.8 331.2C864.1 334.2 865 337.5 865.9 340.7C866.9 343.9 867.6 347.3 868.3 350.6C869 353.9 869.6 357.2 870.2 360.5C870.8 363.8 871.6 368.8 871.9 370.5"/>
<path d="M144.3 257.7C145.9 258.1 150.9 259.3 154.2 260.1C157.5 260.8 160.8 261.5 164.1 262.2C167.4 262.9 170.7 263.6 174 264.2C177.3 264.8 180.6 265.4 184 265.9C187.3 266.4 190.6 266.8 194 267.2C197.3 267.6 200.7 268 204 268.3C207.4 268.7 210.8 269 214.1 269.3C217.5 269.6 220.9 270 224.2 270.3C227.6 270.6 230.9 271 234.3 271.3C237.6 271.7 241 272 244.4 272.4C247.7 272.7 251.1 273.1 254.4 273.5C257.8 273.9 261.1 274.2 264.5 274.6C267.8 275 271.2 275.4 274.5 275.8C277.9 276.2 281.2 276.6 284.6 277.1C287.9 277.5 291.3 277.9 294.6 278.3C298 278.8 301.3 279.2 304.7 279.6C308 280.1 311.4 280.5 314.7 281C318.1 281.4 321.4 281.9 324.8 282.3C328.1 282.7 331.5 283.2 334.8 283.6C338.2 284 341.5 284.5 344.9 284.9C348.2 285.3 351.6 285.7 354.9 286C358.3 286.4 361.6 286.8 365 287.1C368.3 287.4 371.7 287.8 375.1 288.1C378.4 288.3 381.8 288.6 385.1 288.8C388.5 289.1 391.9 289.3 395.2 289.5C398.6 289.7 402 289.8 405.4 290C408.7 290.1 412.1 290.2 415.5 290.4C418.8 290.5 422.2 290.6 425.6 290.7C429 290.8 432.3 290.9 435.7 290.9C439.1 291 442.5 291.1 445.9 291.2C449.2 291.3 452.6 291.3 456 291.4C459.4 291.5 462.7 291.6 466.1 291.7C469.5 291.8 472.9 291.9 476.2 292C479.6 292.1 483 292.2 486.4 292.3C489.7 292.4 493.1 292.6 496.5 292.7C499.8 292.8 503.2 293 506.6 293.1C510 293.2 513.3 293.4 516.7 293.5C520.1 293.7 523.4 293.8 526.8 294C530.2 294.1 533.6 294.3 536.9 294.5C540.3 294.6 543.7 294.8 547 295C550.4 295.1 553.8 295.3 557.2 295.5C560.5 295.6 563.9 295.8 567.3 296C570.6 296.1 574 296.3 577.4 296.4C580.8 296.6 584.1 296.7 587.5 296.9C590.9 297 594.3 297.1 597.6 297.2C601 297.4 604.4 297.5 607.7 297.5C611.1 297.6 614.5 297.7 617.9 297.7C621.2 297.8 624.6 297.8 628 297.8C631.4 297.8 634.7 297.8 638.1 297.8C641.5 297.8 644.9 297.8 648.2 297.8C651.6 297.7 655 297.7 658.4 297.7C661.7 297.6 665.1 297.6 668.5 297.6C671.9 297.5 675.2 297.5 678.6 297.5C682 297.5 685.4 297.5 688.7 297.5C692.1 297.5 695.5 297.5 698.9 297.5C702.2 297.6 705.6 297.6 709 297.7C712.4 297.8 715.7 297.8 719.1 298C722.5 298.1 725.9 298.2 729.2 298.3C732.6 298.4 736 298.6 739.4 298.8C742.7 298.9 746.1 299.1 749.5 299.3C752.8 299.5 756.2 299.8 759.6 300C762.9 300.3 766.3 300.5 769.7 300.9C773 301.2 776.4 301.5 779.7 301.9C783.1 302.2 786.4 302.7 789.8 303.1C793.1 303.6 796.5 304 799.8 304.5C803.2 305 806.5 305.6 809.9 306.1C813.2 306.7 816.6 307.3 820 307.9C823.3 308.6 826.7 309.3 830 310.1C833.4 311 836.7 311.9 839.8 313.1C843 314.3 846.1 315.6 848.9 317.3C851.7 319 854.4 320.9 856.5 323.2C858.7 325.5 860.4 328.2 861.9 331C863.3 333.8 864.3 337.1 865.2 340.3C866.1 343.5 866.7 346.9 867.3 350.2C868 353.6 868.5 357 869.1 360.4C869.6 363.8 870.3 368.8 870.6 370.5"/>
<path d="M143.3 288.4C144 289.3 146.2 292.1 147.8 293.8C149.4 295.5 151.1 297.1 152.8 298.6C154.6 300.2 156.4 301.7 158.2 303.1C160.1 304.5 162 305.8 164 307.1C165.9 308.3 168 309.5 170 310.6C172.1 311.7 174.2 312.7 176.3 313.6C178.5 314.5 180.7 315.3 182.9 316C185.1 316.8 187.3 317.4 189.6 318C191.9 318.6 194.2 319.1 196.4 319.6C198.7 320.1 201.1 320.6 203.4 321C205.7 321.4 208 321.8 210.3 322.1C212.7 322.5 215 322.8 217.3 323.1C219.6 323.5 221.9 323.8 224.3 324.1C226.6 324.4 228.9 324.7 231.2 324.9C233.5 325.2 235.9 325.5 238.2 325.7C240.5 325.9 242.8 326.2 245.1 326.4C247.5 326.6 249.8 326.9 252.1 327.1C254.4 327.3 256.8 327.5 259.1 327.7C261.4 327.9 263.7 328.1 266.1 328.3C268.4 328.5 270.7 328.6 273.1 328.8C275.4 329 277.7 329.1 280.1 329.3C282.4 329.4 284.7 329.6 287 329.7C289.4 329.8 291.7 329.9 294 330C296.4 330.1 298.7 330.2 301 330.3C303.4 330.4 305.7 330.5 308.1 330.5C310.4 330.6 312.7 330.7 315.1 330.7C317.4 330.7 319.7 330.8 322.1 330.8C324.4 330.9 326.7 330.9 329.1 330.9C331.4 330.9 333.7 331 336.1 331C338.4 331 340.7 331 343.1 331C345.4 331.1 347.8 331.1 350.1 331.1C352.4 331.1 354.8 331.2 357.1 331.2C359.4 331.2 361.8 331.2 364.1 331.3C366.4 331.3 368.8 331.3 371.1 331.3C373.4 331.4 375.8 331.4 378.1 331.4C380.5 331.4 382.8 331.5 385.1 331.5C387.5 331.5 389.8 331.5 392.1 331.5C394.5 331.6 396.8 331.6 399.1 331.6C401.5 331.6 403.8 331.7 406.1 331.7C408.5 331.7 410.8 331.7 413.1 331.7C415.5 331.7 417.8 331.8 420.2 331.8C422.5 331.8 424.8 331.8 427.2 331.8C429.5 331.8 431.8 331.8 434.2 331.8C436.5 331.9 438.8 331.9 441.2 331.9C443.5 331.9 445.8 331.9 448.2 331.9C450.5 331.9 452.8 331.9 455.2 331.9C457.5 331.9 459.9 331.9 462.2 331.9C464.5 331.9 466.9 331.9 469.2 331.9C471.5 331.9 473.9 331.9 476.2 332C478.5 332 480.9 332 483.2 332C485.5 332 487.9 332 490.2 332C492.6 332 494.9 332 497.2 332C499.6 332 501.9 332.1 504.2 332.1C506.6 332.1 508.9 332.1 511.2 332.1C513.6 332.1 515.9 332.2 518.2 332.2C520.6 332.2 522.9 332.2 525.3 332.3C527.6 332.3 529.9 332.3 532.3 332.3C534.6 332.4 536.9 332.4 539.3 332.4C541.6 332.5 543.9 332.5 546.3 332.6C548.6 332.6 551 332.6 553.3 332.7C555.6 332.7 558 332.8 560.3 332.9C562.6 332.9 565 333 567.3 333C569.6 333.1 572 333.2 574.3 333.2C576.6 333.3 579 333.4 581.3 333.5C583.6 333.5 586 333.6 588.3 333.7C590.6 333.8 593 333.9 595.3 334C597.6 334.1 600 334.2 602.3 334.3C604.6 334.4 607 334.5 609.3 334.6C611.6 334.8 613.9 334.9 616.3 335C618.6 335.1 620.9 335.3 623.3 335.4C625.6 335.5 627.9 335.7 630.3 335.8C632.6 336 634.9 336.1 637.3 336.3C639.6 336.4 641.9 336.6 644.2 336.7C646.6 336.9 648.9 337.1 651.2 337.2C653.6 337.4 655.9 337.6 658.2 337.7C660.6 337.9 662.9 338.1 665.3 338.3C667.6 338.5 669.9 338.7 672.3 338.9C674.6 339.1 676.9 339.3 679.3 339.5C681.6 339.8 683.9 340 686.2 340.3C688.6 340.5 690.9 340.8 693.2 341.1C695.5 341.5 697.8 341.8 700.1 342.2C702.4 342.5 704.7 342.9 707 343.4C709.3 343.8 711.6 344.2 713.9 344.7C716.2 345.2 718.4 345.8 720.7 346.4C723 346.9 725.2 347.6 727.5 348.2C729.7 348.9 731.9 349.5 734.2 350.2C736.4 350.9 738.6 351.6 740.9 352.4C743.1 353.1 745.3 353.8 747.5 354.5C749.8 355.2 752 356 754.2 356.7C756.5 357.4 758.7 358.1 760.9 358.7C763.2 359.4 765.4 360 767.7 360.6C769.9 361.2 772.2 361.8 774.5 362.3C776.7 362.8 779 363.3 781.3 363.7C783.6 364.1 785.9 364.5 788.2 364.8C790.5 365.1 792.8 365.4 795.1 365.7C797.5 366 799.8 366.2 802.1 366.5C804.4 366.7 806.8 366.9 809.1 367.2C811.4 367.4 813.8 367.6 816.1 367.9C818.4 368.2 820.7 368.4 823 368.7C825.4 369 827.7 369.3 830 369.6C832.3 369.9 834.6 370.2 836.9 370.6C839.2 371 841.5 371.3 843.8 371.7C846.1 372.1 848.4 372.6 850.7 373.1C853 373.5 855.3 374 857.6 374.6C859.8 375.1 862.1 375.7 864.3 376.4C866.6 377 869.9 378.1 871 378.5"/>
<path d="M142.7 309.4C143.3 310.4 145.1 313.5 146.4 315.5C147.6 317.5 148.9 319.5 150.2 321.4C151.6 323.3 152.9 325.3 154.4 327C155.9 328.8 157.4 330.5 159.2 331.9C160.9 333.4 162.8 334.7 164.8 335.8C166.8 336.9 168.9 337.9 171 338.7C173.2 339.5 175.4 340.2 177.7 340.8C180 341.3 182.3 341.8 184.6 342.2C187 342.6 189.4 342.9 191.7 343.2C194.1 343.5 196.5 343.7 198.8 343.9C201.2 344.2 203.5 344.4 205.9 344.6C208.2 344.8 210.6 345 212.9 345.1C215.3 345.3 217.6 345.4 219.9 345.6C222.3 345.7 224.6 345.8 226.9 345.9C229.3 346 231.6 346.1 233.9 346.2C236.3 346.3 238.6 346.3 240.9 346.4C243.3 346.4 245.6 346.5 248 346.5C250.3 346.6 252.6 346.6 255 346.6C257.3 346.7 259.7 346.7 262 346.7C264.3 346.7 266.7 346.7 269 346.7C271.4 346.7 273.7 346.7 276.1 346.7C278.4 346.7 280.7 346.7 283.1 346.7C285.4 346.7 287.8 346.7 290.1 346.7C292.5 346.7 294.8 346.7 297.1 346.7C299.5 346.7 301.8 346.7 304.2 346.7C306.5 346.7 308.9 346.7 311.2 346.8C313.5 346.8 315.9 346.8 318.2 346.8C320.6 346.8 322.9 346.8 325.3 346.8C327.6 346.8 329.9 346.9 332.3 346.9C334.6 346.9 337 346.9 339.3 346.9C341.6 346.9 344 346.9 346.3 346.9C348.7 346.9 351 346.9 353.3 346.9C355.7 346.9 358 346.9 360.4 346.8C362.7 346.8 365.1 346.8 367.4 346.8C369.7 346.8 372.1 346.8 374.4 346.7C376.8 346.7 379.1 346.7 381.4 346.7C383.8 346.6 386.1 346.6 388.5 346.6C390.8 346.6 393.1 346.5 395.5 346.5C397.8 346.5 400.2 346.5 402.5 346.4C404.9 346.4 407.2 346.4 409.5 346.4C411.9 346.3 414.2 346.3 416.6 346.3C418.9 346.3 421.2 346.2 423.6 346.2C425.9 346.2 428.3 346.2 430.6 346.1C433 346.1 435.3 346.1 437.6 346.1C440 346.1 442.3 346.1 444.7 346C447 346 449.3 346 451.7 346C454 346 456.4 346 458.7 346C461 346 463.4 346 465.7 346C468.1 346 470.4 346 472.8 346C475.1 346 477.4 346 479.8 346C482.1 346 484.5 346 486.8 346C489.1 346 491.5 346 493.8 346C496.2 346.1 498.5 346.1 500.9 346.1C503.2 346.1 505.5 346.2 507.9 346.2C510.2 346.2 512.6 346.3 514.9 346.3C517.2 346.3 519.6 346.4 521.9 346.4C524.3 346.5 526.6 346.5 529 346.5C531.3 346.6 533.6 346.7 536 346.7C538.3 346.8 540.7 346.8 543 346.9C545.4 347 547.7 347.1 550 347.1C552.4 347.2 554.7 347.3 557.1 347.4C559.4 347.5 561.7 347.6 564.1 347.7C566.4 347.8 568.8 347.9 571.1 348C573.4 348.1 575.8 348.3 578.1 348.4C580.4 348.5 582.8 348.7 585.1 348.8C587.4 348.9 589.8 349.1 592.1 349.3C594.4 349.4 596.8 349.6 599.1 349.8C601.4 349.9 603.8 350.1 606.1 350.3C608.4 350.5 610.8 350.7 613.1 350.9C615.4 351.1 617.8 351.3 620.1 351.5C622.4 351.7 624.8 351.9 627.1 352.1C629.4 352.3 631.8 352.5 634.1 352.7C636.4 352.9 638.8 353.1 641.1 353.3C643.4 353.5 645.8 353.7 648.1 353.9C650.4 354.1 652.8 354.3 655.1 354.5C657.4 354.7 659.8 354.8 662.1 355C664.5 355.2 666.8 355.4 669.2 355.6C671.5 355.7 673.9 355.9 676.2 356.1C678.5 356.3 680.9 356.5 683.2 356.7C685.6 356.9 687.9 357.2 690.2 357.4C692.6 357.7 694.9 358 697.2 358.2C699.5 358.5 701.8 358.8 704.2 359.2C706.5 359.5 708.8 359.9 711.1 360.3C713.4 360.7 715.6 361.1 717.9 361.6C720.2 362.1 722.5 362.6 724.7 363.2C727 363.8 729.2 364.4 731.4 365.1C733.7 365.7 735.9 366.5 738.1 367.2C740.3 368 742.5 368.7 744.7 369.6C746.9 370.4 749.1 371.2 751.2 372.2C753.4 373.1 755.5 374.2 757.7 375.2C759.8 376.3 761.9 377.4 764.1 378.5C766.2 379.5 768.3 380.6 770.5 381.6C772.7 382.6 774.8 383.6 777 384.5C779.2 385.4 781.4 386.2 783.7 386.9C785.9 387.6 788.2 388.2 790.5 388.7C792.7 389.3 795.1 389.7 797.4 390.1C799.7 390.5 802 390.8 804.3 391.1C806.7 391.4 809 391.6 811.4 391.8C813.7 392 816 392.1 818.4 392.3C820.7 392.4 823.1 392.5 825.4 392.7C827.7 392.8 830.1 393 832.4 393.2C834.7 393.4 837 393.7 839.3 394C841.6 394.3 843.9 394.7 846.2 395.2C848.5 395.6 850.7 396.1 853 396.7C855.3 397.3 857.5 398.1 859.7 398.8C862 399.6 864.2 400.3 866.4 401.1C868.6 401.9 871.9 403.2 873 403.6"/>
<path d="M142.7 309.4C143.3 310.4 145.2 313.4 146.3 315.5C147.4 317.5 148.3 319.7 149.3 321.8C150.3 324 151.2 326.2 152.2 328.3C153.2 330.4 154.3 332.5 155.5 334.4C156.8 336.4 158.2 338.3 159.7 340C161.3 341.7 163 343.2 164.8 344.6C166.7 346 168.7 347.3 170.7 348.3C172.8 349.4 175 350.3 177.2 351.1C179.4 351.8 181.7 352.4 184 353C186.3 353.5 188.7 353.9 191 354.2C193.4 354.6 195.7 354.9 198.1 355.2C200.5 355.5 202.8 355.7 205.2 356C207.5 356.2 209.9 356.4 212.2 356.6C214.6 356.8 216.9 357 219.3 357.1C221.6 357.3 224 357.4 226.3 357.5C228.7 357.7 231 357.8 233.4 357.9C235.7 358 238.1 358.1 240.4 358.2C242.8 358.3 245.2 358.4 247.5 358.5C249.9 358.6 252.2 358.7 254.6 358.8C256.9 358.8 259.3 358.9 261.6 359C264 359.1 266.3 359.1 268.7 359.2C271 359.3 273.4 359.3 275.7 359.4C278.1 359.4 280.5 359.5 282.8 359.6C285.2 359.6 287.5 359.7 289.9 359.7C292.2 359.8 294.6 359.9 296.9 359.9C299.3 360 301.6 360.1 304 360.1C306.4 360.2 308.7 360.3 311.1 360.3C313.4 360.4 315.8 360.4 318.1 360.5C320.5 360.6 322.8 360.6 325.2 360.7C327.5 360.7 329.9 360.8 332.2 360.8C334.6 360.8 337 360.9 339.3 360.9C341.7 360.9 344 360.9 346.4 360.9C348.7 360.9 351.1 360.9 353.4 360.9C355.8 360.8 358.1 360.8 360.5 360.8C362.9 360.7 365.2 360.7 367.6 360.7C369.9 360.6 372.3 360.6 374.6 360.5C377 360.4 379.3 360.4 381.7 360.3C384 360.3 386.4 360.2 388.7 360.1C391.1 360.1 393.5 360 395.8 359.9C398.2 359.9 400.5 359.8 402.9 359.7C405.2 359.7 407.6 359.6 409.9 359.5C412.3 359.5 414.6 359.4 417 359.4C419.4 359.3 421.7 359.3 424.1 359.2C426.4 359.2 428.8 359.1 431.1 359.1C433.5 359.1 435.8 359 438.2 359C440.5 359 442.9 359 445.3 359C447.6 358.9 450 358.9 452.3 358.9C454.7 358.9 457 358.9 459.4 359C461.7 359 464.1 359 466.5 359C468.8 359 471.2 359 473.5 359.1C475.9 359.1 478.2 359.1 480.6 359.2C482.9 359.2 485.3 359.3 487.6 359.3C490 359.4 492.4 359.4 494.7 359.5C497.1 359.5 499.4 359.6 501.8 359.7C504.1 359.8 506.5 359.8 508.8 359.9C511.2 360 513.5 360.1 515.9 360.2C518.2 360.3 520.6 360.3 523 360.4C525.3 360.5 527.7 360.6 530 360.7C532.4 360.8 534.7 361 537.1 361.1C539.4 361.2 541.8 361.3 544.1 361.4C546.5 361.5 548.8 361.6 551.2 361.7C553.5 361.8 555.9 362 558.2 362.1C560.6 362.2 562.9 362.3 565.3 362.4C567.6 362.5 570 362.6 572.4 362.8C574.7 362.9 577.1 363 579.4 363.1C581.8 363.2 584.1 363.3 586.5 363.4C588.8 363.5 591.2 363.6 593.5 363.7C595.9 363.8 598.2 363.9 600.6 364C602.9 364.1 605.3 364.2 607.6 364.3C610 364.4 612.3 364.5 614.7 364.6C617 364.7 619.4 364.7 621.7 364.8C624.1 364.9 626.4 365 628.8 365.1C631.2 365.2 633.5 365.3 635.9 365.4C638.2 365.6 640.6 365.7 642.9 365.8C645.3 365.9 647.6 366 650 366.2C652.3 366.3 654.7 366.4 657 366.6C659.4 366.7 661.7 366.9 664.1 367.1C666.4 367.2 668.8 367.4 671.1 367.6C673.5 367.8 675.9 368 678.2 368.2C680.5 368.5 682.9 368.7 685.2 369C687.6 369.2 689.9 369.5 692.3 369.8C694.6 370.1 696.9 370.5 699.3 370.8C701.6 371.1 703.9 371.4 706.2 371.8C708.6 372.1 710.9 372.5 713.2 372.9C715.5 373.3 717.8 373.8 720.1 374.2C722.4 374.7 724.7 375.2 727 375.8C729.3 376.3 731.5 376.9 733.8 377.6C736 378.2 738.3 378.9 740.5 379.6C742.7 380.3 744.9 381.1 747.1 381.9C749.3 382.8 751.5 383.6 753.6 384.6C755.8 385.7 757.9 387 760 388.2C762.1 389.4 764.2 390.6 766.3 391.8C768.4 393 770.5 394.3 772.6 395.4C774.8 396.5 776.9 397.7 779.1 398.7C781.2 399.7 783.5 400.7 785.7 401.5C787.9 402.4 790.2 403 792.5 403.6C794.7 404.2 797 404.7 799.4 405.2C801.7 405.7 804 406.1 806.3 406.4C808.7 406.8 811 407.1 813.4 407.3C815.7 407.6 818 407.8 820.4 408C822.7 408.2 825.1 408.4 827.4 408.6C829.7 408.8 832.1 409 834.4 409.2C836.7 409.5 839 409.8 841.4 410.2C843.7 410.5 845.9 410.9 848.2 411.4C850.5 411.9 852.8 412.5 855 413.2C857.3 413.9 859.5 414.7 861.8 415.5C864 416.3 866.2 417.2 868.4 418.1C870.6 418.9 873.9 420.2 875 420.7"/>
<path d="M142.7 309.4C143.3 310.4 145.1 313.4 146.1 315.5C147.2 317.6 148 319.8 148.9 322C149.8 324.1 150.6 326.4 151.4 328.6C152.2 330.8 152.9 333.1 153.8 335.2C154.7 337.4 155.5 339.6 156.6 341.7C157.7 343.8 158.9 345.8 160.3 347.6C161.6 349.4 163.2 351.1 164.9 352.6C166.6 354 168.6 355.3 170.6 356.4C172.6 357.5 174.7 358.4 176.9 359.3C179.1 360.2 181.3 360.9 183.6 361.6C185.8 362.4 188.1 363 190.4 363.6C192.7 364.2 195 364.7 197.4 365.2C199.7 365.8 202 366.2 204.3 366.7C206.6 367.1 208.9 367.5 211.3 367.8C213.6 368.2 215.9 368.5 218.3 368.8C220.6 369.2 222.9 369.4 225.2 369.7C227.6 369.9 229.9 370.1 232.2 370.3C234.6 370.5 236.9 370.7 239.3 370.9C241.6 371 243.9 371.2 246.3 371.3C248.6 371.4 251 371.6 253.3 371.7C255.7 371.8 258 371.8 260.3 371.9C262.7 372 265 372.1 267.4 372.1C269.7 372.2 272.1 372.3 274.4 372.3C276.8 372.4 279.1 372.5 281.5 372.5C283.8 372.6 286.2 372.7 288.5 372.7C290.9 372.8 293.2 372.9 295.6 373C297.9 373.1 300.3 373.2 302.6 373.3C304.9 373.4 307.3 373.5 309.6 373.6C312 373.7 314.3 373.9 316.7 374C319 374.1 321.4 374.3 323.7 374.4C326 374.5 328.4 374.6 330.7 374.7C333.1 374.8 335.4 374.9 337.8 374.9C340.1 375 342.5 375 344.8 375C347.1 375 349.5 375 351.8 375C354.2 375 356.5 374.9 358.9 374.9C361.2 374.8 363.5 374.7 365.9 374.6C368.2 374.6 370.6 374.5 372.9 374.3C375.3 374.2 377.6 374.1 380 374C382.3 373.9 384.6 373.7 387 373.6C389.3 373.5 391.7 373.3 394 373.2C396.4 373 398.7 372.9 401.1 372.8C403.4 372.6 405.8 372.5 408.1 372.3C410.4 372.2 412.8 372.1 415.1 372C417.5 371.8 419.8 371.7 422.2 371.6C424.5 371.5 426.9 371.4 429.2 371.3C431.6 371.2 433.9 371.2 436.3 371.1C438.6 371 441 371 443.3 370.9C445.7 370.9 448 370.8 450.3 370.8C452.7 370.8 455 370.8 457.4 370.8C459.7 370.8 462.1 370.8 464.4 370.8C466.8 370.8 469.1 370.8 471.5 370.8C473.8 370.8 476.2 370.9 478.5 370.9C480.9 370.9 483.2 371 485.6 371C487.9 371.1 490.2 371.2 492.6 371.2C494.9 371.3 497.3 371.4 499.6 371.5C502 371.5 504.3 371.6 506.7 371.7C509 371.8 511.4 371.9 513.7 372C516.1 372.1 518.4 372.2 520.7 372.4C523.1 372.5 525.4 372.6 527.8 372.7C530.1 372.8 532.5 373 534.8 373.1C537.2 373.2 539.5 373.4 541.8 373.5C544.2 373.6 546.5 373.8 548.9 373.9C551.2 374.1 553.6 374.2 555.9 374.4C558.2 374.5 560.6 374.7 562.9 374.8C565.3 374.9 567.6 375.1 570 375.2C572.3 375.4 574.6 375.5 577 375.7C579.3 375.8 581.7 376 584 376.1C586.3 376.3 588.7 376.4 591 376.6C593.4 376.7 595.7 376.9 598 377C600.4 377.1 602.7 377.3 605.1 377.4C607.4 377.6 609.8 377.7 612.1 377.8C614.4 378 616.8 378.1 619.1 378.3C621.5 378.4 623.8 378.5 626.1 378.7C628.5 378.8 630.8 379 633.2 379.1C635.5 379.3 637.9 379.4 640.2 379.6C642.5 379.7 644.9 379.9 647.2 380C649.6 380.2 651.9 380.4 654.3 380.5C656.6 380.7 659 380.9 661.3 381.1C663.6 381.3 666 381.5 668.3 381.7C670.7 381.9 673 382.1 675.4 382.3C677.7 382.5 680.1 382.8 682.4 383C684.7 383.3 687.1 383.6 689.4 383.9C691.7 384.2 694.1 384.5 696.4 384.9C698.7 385.2 701 385.5 703.3 385.9C705.6 386.3 707.9 386.6 710.2 387C712.5 387.4 714.8 387.9 717.1 388.4C719.4 388.9 721.7 389.4 723.9 390C726.2 390.5 728.4 391.2 730.7 391.8C732.9 392.5 735.1 393.2 737.3 393.9C739.5 394.7 741.7 395.5 743.9 396.3C746.1 397.1 748.2 398 750.3 399C752.5 400 754.6 401.1 756.6 402.4C758.7 403.6 760.8 405 762.9 406.3C764.9 407.6 767 408.9 769 410.2C771.1 411.6 773.2 412.9 775.3 414.1C777.4 415.4 779.5 416.6 781.6 417.8C783.8 418.9 785.9 420 788.1 420.9C790.3 421.9 792.5 422.6 794.8 423.4C797 424.1 799.3 424.8 801.5 425.4C803.8 426 806.1 426.5 808.4 426.9C810.7 427.3 813 427.7 815.3 427.9C817.6 428.2 820 428.4 822.3 428.6C824.6 428.8 827 428.9 829.3 429C831.6 429.2 834 429.4 836.3 429.6C838.6 429.8 840.9 430.1 843.2 430.4C845.5 430.7 847.8 431 850.1 431.5C852.4 432 854.6 432.6 856.9 433.3C859.2 434 861.4 434.8 863.7 435.5C865.9 436.3 868.1 437.2 870.4 437.9C872.6 438.7 875.9 439.8 877 440.2"/>
<path d="M142.7 309.4C143.2 310.4 144.9 313.5 145.9 315.6C146.8 317.8 147.6 319.9 148.4 322.1C149.3 324.3 150 326.5 150.7 328.8C151.4 331 152.1 333.2 152.8 335.5C153.6 337.7 154.3 340 155.1 342.2C155.9 344.4 156.7 346.6 157.7 348.7C158.7 350.8 159.8 352.9 161 354.9C162.2 356.9 163.6 358.7 165.1 360.5C166.6 362.2 168.3 363.8 170.1 365.3C171.9 366.8 173.8 368.1 175.8 369.2C177.8 370.4 179.9 371.5 182 372.4C184.2 373.3 186.4 374.1 188.6 374.9C190.9 375.6 193.1 376.3 195.4 376.9C197.7 377.6 200 378.1 202.3 378.6C204.6 379.2 206.9 379.7 209.2 380.1C211.5 380.5 213.8 381 216.1 381.3C218.4 381.7 220.8 382 223.1 382.4C225.4 382.7 227.7 383 230.1 383.2C232.4 383.5 234.7 383.7 237 384C239.4 384.2 241.7 384.4 244 384.6C246.4 384.8 248.7 385 251 385.1C253.4 385.3 255.7 385.5 258.1 385.6C260.4 385.7 262.7 385.9 265.1 386C267.4 386.1 269.7 386.2 272.1 386.3C274.4 386.4 276.8 386.4 279.1 386.5C281.4 386.6 283.8 386.6 286.1 386.7C288.5 386.8 290.8 386.8 293.1 386.9C295.5 386.9 297.8 387 300.2 387C302.5 387.1 304.9 387.1 307.2 387.1C309.5 387.2 311.9 387.2 314.2 387.3C316.6 387.3 318.9 387.3 321.2 387.3C323.6 387.3 325.9 387.4 328.3 387.4C330.6 387.4 332.9 387.4 335.3 387.3C337.6 387.3 340 387.3 342.3 387.2C344.6 387.2 347 387.2 349.3 387.1C351.7 387 354 387 356.3 386.9C358.7 386.8 361 386.7 363.3 386.6C365.7 386.5 368 386.4 370.4 386.3C372.7 386.2 375 386.1 377.4 386C379.7 385.9 382 385.8 384.4 385.7C386.7 385.6 389.1 385.4 391.4 385.3C393.7 385.2 396.1 385.1 398.4 385C400.8 384.9 403.1 384.7 405.4 384.6C407.8 384.5 410.1 384.4 412.4 384.3C414.8 384.2 417.1 384.1 419.5 384C421.8 383.9 424.1 383.8 426.5 383.7C428.8 383.6 431.2 383.6 433.5 383.5C435.8 383.4 438.2 383.4 440.5 383.3C442.9 383.3 445.2 383.2 447.5 383.2C449.9 383.1 452.2 383.1 454.6 383.1C456.9 383.1 459.2 383 461.6 383C463.9 383 466.3 383 468.6 383C471 383 473.3 383 475.6 383.1C478 383.1 480.3 383.1 482.7 383.1C485 383.2 487.3 383.2 489.7 383.3C492 383.3 494.4 383.4 496.7 383.4C499 383.5 501.4 383.6 503.7 383.6C506.1 383.7 508.4 383.8 510.7 383.9C513.1 384 515.4 384.1 517.8 384.2C520.1 384.3 522.4 384.4 524.8 384.5C527.1 384.6 529.4 384.8 531.8 384.9C534.1 385 536.5 385.2 538.8 385.3C541.1 385.5 543.5 385.6 545.8 385.7C548.1 385.9 550.5 386 552.8 386.2C555.1 386.4 557.5 386.5 559.8 386.7C562.1 386.8 564.5 387 566.8 387.2C569.2 387.3 571.5 387.5 573.8 387.6C576.2 387.8 578.5 388 580.8 388.1C583.2 388.3 585.5 388.5 587.8 388.6C590.2 388.8 592.5 389 594.8 389.1C597.2 389.3 599.5 389.4 601.8 389.6C604.2 389.8 606.5 389.9 608.8 390.1C611.2 390.2 613.5 390.4 615.8 390.6C618.2 390.7 620.5 390.9 622.8 391C625.2 391.2 627.5 391.4 629.8 391.5C632.2 391.7 634.5 391.9 636.8 392C639.2 392.2 641.5 392.4 643.8 392.6C646.2 392.8 648.5 392.9 650.8 393.1C653.2 393.3 655.5 393.5 657.9 393.7C660.2 393.9 662.5 394.1 664.9 394.3C667.2 394.5 669.6 394.7 671.9 395C674.2 395.2 676.6 395.4 678.9 395.7C681.2 396 683.6 396.3 685.9 396.6C688.2 396.9 690.5 397.2 692.9 397.5C695.2 397.9 697.5 398.3 699.8 398.7C702.1 399 704.4 399.3 706.7 399.7C709 400 711.3 400.4 713.5 400.9C715.8 401.3 718.1 401.8 720.3 402.3C722.6 402.8 724.8 403.4 727 404C729.2 404.7 731.5 405.3 733.7 406C735.9 406.8 738 407.5 740.2 408.3C742.4 409.1 744.5 410 746.6 410.8C748.8 411.7 750.9 412.4 753 413.6C755 414.8 757.1 416.5 759.2 417.9C761.2 419.4 763.2 420.8 765.3 422.3C767.3 423.8 769.4 425.3 771.4 426.7C773.5 428.1 775.5 429.6 777.6 431C779.7 432.4 781.8 433.8 784 435C786.1 436.2 788.3 437.2 790.5 438.1C792.6 439 794.8 439.8 797.1 440.6C799.3 441.4 801.5 442.1 803.8 442.6C806.1 443.2 808.3 443.6 810.6 444C812.9 444.4 815.2 444.8 817.5 445C819.8 445.3 822.2 445.3 824.5 445.5C826.8 445.6 829.1 445.6 831.5 445.8C833.8 445.9 836.1 446 838.4 446.2C840.7 446.3 843 446.5 845.3 446.8C847.6 447.1 849.9 447.2 852.2 447.7C854.4 448.3 856.7 449.1 859 449.9C861.2 450.6 863.5 451.5 865.7 452.2C867.9 453 870.2 453.8 872.4 454.6C874.6 455.3 877.9 456.4 879 456.8"/>
<path d="M142.7 309.4C143.2 310.5 144.7 313.6 145.6 315.8C146.4 317.9 147.2 320.1 147.9 322.3C148.7 324.5 149.3 326.8 150 329C150.7 331.2 151.3 333.5 152 335.7C152.7 338 153.3 340.2 154 342.5C154.6 344.7 155.3 347 156 349.2C156.7 351.5 157.3 353.7 158.1 355.9C158.9 358.1 159.7 360.3 160.7 362.4C161.7 364.5 162.9 366.5 164.2 368.3C165.5 370.1 167.1 371.8 168.8 373.4C170.4 374.9 172.3 376.3 174.2 377.7C176.1 379 178.1 380.2 180.2 381.3C182.2 382.4 184.4 383.4 186.5 384.4C188.7 385.3 190.9 386.2 193.1 387C195.3 387.8 197.5 388.6 199.8 389.2C202 389.9 204.3 390.5 206.6 391.1C208.8 391.7 211.1 392.2 213.4 392.6C215.7 393.1 218 393.5 220.3 393.9C222.6 394.3 224.9 394.6 227.3 395C229.6 395.3 231.9 395.6 234.2 395.8C236.6 396.1 238.9 396.3 241.2 396.6C243.5 396.8 245.9 397 248.2 397.2C250.5 397.3 252.9 397.5 255.2 397.7C257.5 397.8 259.8 397.9 262.2 398.1C264.5 398.2 266.8 398.3 269.2 398.4C271.5 398.5 273.8 398.6 276.2 398.6C278.5 398.7 280.8 398.8 283.2 398.8C285.5 398.9 287.9 399 290.2 399C292.5 399.1 294.9 399.1 297.2 399.2C299.5 399.2 301.9 399.3 304.2 399.3C306.5 399.4 308.9 399.4 311.2 399.4C313.5 399.5 315.9 399.5 318.2 399.6C320.6 399.6 322.9 399.6 325.2 399.6C327.6 399.6 329.9 399.6 332.2 399.6C334.6 399.6 336.9 399.6 339.2 399.6C341.6 399.6 343.9 399.5 346.2 399.5C348.6 399.4 350.9 399.3 353.2 399.2C355.6 399.2 357.9 399.1 360.2 399C362.5 398.9 364.9 398.8 367.2 398.6C369.5 398.5 371.9 398.4 374.2 398.3C376.5 398.1 378.9 398 381.2 397.9C383.5 397.7 385.9 397.6 388.2 397.4C390.5 397.3 392.9 397.2 395.2 397C397.5 396.9 399.8 396.7 402.2 396.6C404.5 396.5 406.8 396.3 409.2 396.2C411.5 396.1 413.8 395.9 416.2 395.8C418.5 395.7 420.8 395.6 423.2 395.5C425.5 395.4 427.8 395.3 430.2 395.2C432.5 395.1 434.8 395 437.2 394.9C439.5 394.9 441.8 394.8 444.2 394.7C446.5 394.7 448.9 394.6 451.2 394.6C453.5 394.6 455.9 394.5 458.2 394.5C460.5 394.5 462.9 394.5 465.2 394.5C467.5 394.5 469.9 394.5 472.2 394.5C474.5 394.5 476.9 394.5 479.2 394.6C481.5 394.6 483.9 394.6 486.2 394.7C488.6 394.7 490.9 394.8 493.2 394.8C495.6 394.9 497.9 395 500.2 395.1C502.6 395.2 504.9 395.2 507.2 395.3C509.6 395.4 511.9 395.6 514.2 395.7C516.6 395.8 518.9 395.9 521.2 396C523.5 396.2 525.9 396.3 528.2 396.5C530.5 396.6 532.9 396.8 535.2 396.9C537.5 397.1 539.9 397.2 542.2 397.4C544.5 397.6 546.8 397.7 549.2 397.9C551.5 398.1 553.8 398.3 556.2 398.4C558.5 398.6 560.8 398.8 563.1 399C565.5 399.2 567.8 399.3 570.1 399.5C572.5 399.7 574.8 399.9 577.1 400.1C579.4 400.3 581.8 400.4 584.1 400.6C586.4 400.8 588.7 401 591.1 401.2C593.4 401.3 595.7 401.5 598.1 401.7C600.4 401.8 602.7 402 605 402.2C607.4 402.3 609.7 402.5 612 402.7C614.3 402.8 616.7 403 619 403.2C621.3 403.3 623.7 403.5 626 403.7C628.3 403.9 630.6 404 633 404.2C635.3 404.4 637.6 404.6 640 404.8C642.3 405 644.6 405.2 646.9 405.4C649.3 405.6 651.6 405.8 653.9 406C656.2 406.2 658.6 406.4 660.9 406.7C663.2 406.9 665.6 407.2 667.9 407.4C670.2 407.7 672.5 408 674.9 408.2C677.2 408.5 679.5 408.8 681.8 409.2C684.1 409.5 686.5 409.8 688.8 410.2C691.1 410.6 693.4 411 695.7 411.4C698 411.8 700.3 412.2 702.6 412.6C704.9 413 707.1 413.3 709.4 413.7C711.7 414.1 713.9 414.6 716.2 415.1C718.5 415.6 720.7 416.1 722.9 416.6C725.2 417.2 727.4 417.8 729.6 418.5C731.8 419.1 734 419.8 736.2 420.5C738.4 421.3 740.6 422 742.7 422.8C744.9 423.7 747 424.4 749.1 425.4C751.2 426.4 753.3 427.5 755.4 428.7C757.5 430 759.5 431.6 761.5 433.1C763.6 434.5 765.6 436 767.6 437.5C769.7 439 771.7 440.4 773.7 441.9C775.8 443.4 777.8 444.8 779.9 446.2C782 447.6 784.1 449.1 786.2 450.3C788.3 451.5 790.4 452.4 792.6 453.3C794.7 454.3 796.9 455.2 799.1 456C801.3 456.9 803.5 457.6 805.7 458.3C807.9 458.9 810.2 459.5 812.4 460C814.7 460.5 816.9 461.1 819.2 461.4C821.5 461.8 823.8 462 826.1 462.2C828.4 462.5 830.7 462.7 833 462.9C835.3 463.2 837.6 463.4 839.9 463.6C842.2 463.8 844.5 464 846.8 464.3C849 464.6 851.3 464.9 853.6 465.4C855.9 465.9 858.2 466.7 860.4 467.4C862.7 468.1 864.9 468.8 867.2 469.5C869.4 470.3 871.6 470.9 873.9 471.6C876.1 472.3 879.4 473.4 880.5 473.7"/>
<path d="M142.7 309.4C143.1 310.5 144.5 313.7 145.2 316C146 318.2 146.7 320.4 147.3 322.7C148 324.9 148.6 327.2 149.2 329.4C149.9 331.7 150.5 334 151.1 336.2C151.7 338.5 152.3 340.8 152.9 343C153.6 345.3 154.2 347.6 154.8 349.8C155.5 352.1 156.1 354.4 156.7 356.7C157.4 358.9 158.1 361.2 158.8 363.4C159.6 365.6 160.4 367.9 161.3 370C162.3 372.1 163.4 374.1 164.7 376C166 377.9 167.5 379.7 169 381.5C170.6 383.2 172.3 384.8 174.1 386.3C175.9 387.8 177.8 389.2 179.7 390.4C181.7 391.7 183.8 392.9 185.9 393.9C187.9 395 190.1 396 192.3 396.9C194.5 397.8 196.7 398.6 198.9 399.4C201.2 400.1 203.4 400.8 205.7 401.4C207.9 402.1 210.2 402.6 212.5 403.1C214.8 403.7 217.1 404.2 219.5 404.6C221.8 405 224.1 405.4 226.4 405.8C228.8 406.2 231.1 406.6 233.4 406.9C235.8 407.3 238.1 407.6 240.4 407.9C242.8 408.2 245.1 408.5 247.5 408.7C249.8 409 252.1 409.3 254.5 409.5C256.8 409.7 259.1 410 261.5 410.2C263.8 410.4 266.2 410.6 268.5 410.7C270.9 410.9 273.2 411.1 275.5 411.2C277.9 411.4 280.2 411.5 282.6 411.6C284.9 411.7 287.3 411.8 289.6 411.9C292 412 294.3 412.1 296.7 412.1C299 412.2 301.3 412.2 303.7 412.3C306 412.3 308.4 412.3 310.7 412.3C313.1 412.3 315.4 412.3 317.8 412.3C320.1 412.3 322.5 412.3 324.8 412.3C327.2 412.2 329.5 412.2 331.9 412.1C334.2 412.1 336.6 412 338.9 411.9C341.3 411.9 343.6 411.8 346 411.7C348.3 411.6 350.7 411.5 353 411.4C355.3 411.3 357.7 411.2 360 411.1C362.4 410.9 364.7 410.8 367.1 410.7C369.4 410.6 371.8 410.4 374.1 410.3C376.5 410.2 378.8 410 381.1 409.9C383.5 409.8 385.8 409.6 388.2 409.5C390.5 409.4 392.9 409.2 395.2 409.1C397.6 408.9 399.9 408.8 402.2 408.7C404.6 408.6 406.9 408.4 409.3 408.3C411.6 408.2 414 408.1 416.3 408C418.7 407.8 421 407.7 423.4 407.6C425.7 407.5 428.1 407.5 430.4 407.4C432.8 407.3 435.1 407.2 437.5 407.1C439.8 407.1 442.1 407 444.5 407C446.8 406.9 449.2 406.9 451.5 406.8C453.9 406.8 456.2 406.8 458.6 406.7C460.9 406.7 463.3 406.7 465.6 406.7C468 406.7 470.3 406.7 472.7 406.7C475 406.7 477.4 406.8 479.7 406.8C482.1 406.8 484.4 406.9 486.8 406.9C489.1 407 491.5 407 493.8 407.1C496.2 407.1 498.5 407.2 500.9 407.3C503.2 407.4 505.6 407.5 507.9 407.6C510.3 407.7 512.6 407.8 514.9 407.9C517.3 408 519.6 408.2 522 408.3C524.3 408.4 526.7 408.6 529 408.7C531.4 408.9 533.7 409 536 409.2C538.4 409.3 540.7 409.5 543.1 409.7C545.4 409.8 547.8 410 550.1 410.2C552.4 410.4 554.8 410.6 557.1 410.7C559.5 410.9 561.8 411.1 564.2 411.3C566.5 411.5 568.8 411.7 571.2 411.9C573.5 412 575.9 412.2 578.2 412.4C580.5 412.6 582.9 412.8 585.2 413C587.6 413.2 589.9 413.4 592.2 413.5C594.6 413.7 596.9 413.9 599.3 414.1C601.6 414.2 604 414.4 606.3 414.6C608.6 414.8 611 414.9 613.3 415.1C615.7 415.3 618 415.5 620.3 415.7C622.7 415.8 625 416 627.4 416.2C629.7 416.4 632 416.6 634.4 416.8C636.7 417 639.1 417.2 641.4 417.4C643.7 417.6 646.1 417.8 648.4 418.1C650.8 418.3 653.1 418.5 655.4 418.8C657.8 419 660.1 419.3 662.5 419.6C664.8 419.8 667.1 420.1 669.5 420.4C671.8 420.7 674.1 421 676.5 421.4C678.8 421.7 681.1 422.1 683.4 422.4C685.8 422.8 688.1 423.2 690.4 423.6C692.7 424 695 424.5 697.3 424.9C699.6 425.4 701.9 425.8 704.2 426.2C706.5 426.6 708.8 427 711.1 427.5C713.4 428 715.6 428.5 717.9 429C720.1 429.5 722.4 430.1 724.6 430.7C726.9 431.3 729.1 432 731.3 432.7C733.5 433.4 735.7 434.1 737.9 434.9C740.1 435.7 742.3 436.5 744.4 437.4C746.5 438.2 748.7 439 750.8 440.1C752.9 441.2 754.9 442.5 757 443.9C759 445.3 761 446.9 763.1 448.4C765.1 450 767.1 451.5 769.1 453C771.1 454.6 773.1 456.1 775.1 457.6C777.2 459.2 779.2 460.7 781.2 462.1C783.3 463.6 785.4 465 787.5 466.3C789.6 467.5 791.7 468.4 793.8 469.5C796 470.5 798.1 471.5 800.3 472.3C802.5 473.2 804.7 474 806.9 474.6C809.1 475.3 811.4 475.9 813.6 476.4C815.9 476.9 818.2 477.4 820.5 477.8C822.8 478.1 825.1 478.3 827.4 478.5C829.7 478.8 832 479 834.3 479.2C836.7 479.4 839 479.6 841.3 479.8C843.6 480.1 845.9 480.2 848.2 480.6C850.5 480.9 852.8 481.3 855.1 481.9C857.4 482.5 859.7 483.3 861.9 484C864.2 484.7 866.5 485.6 868.7 486.3C870.9 487 873.2 487.7 875.4 488.4C877.6 489.2 880.9 490.3 882 490.7"/>
<path d="M142.7 309.4C143.1 310.5 144.2 313.8 144.9 316.1C145.6 318.3 146.1 320.6 146.7 322.9C147.3 325.1 147.8 327.4 148.4 329.7C149 332 149.5 334.3 150.1 336.5C150.6 338.8 151.2 341.1 151.8 343.4C152.3 345.6 152.9 347.9 153.5 350.2C154.1 352.5 154.7 354.7 155.3 357C155.9 359.3 156.6 361.6 157.2 363.8C157.8 366.1 158.5 368.4 159.1 370.7C159.8 372.9 160.4 375.2 161.2 377.4C162 379.7 162.7 381.9 163.7 384C164.6 386.1 165.7 388.1 167 390C168.3 391.8 169.8 393.5 171.5 395C173.1 396.6 175 397.9 176.9 399.2C178.9 400.5 181 401.6 183.1 402.6C185.2 403.7 187.5 404.6 189.7 405.4C191.9 406.3 194.2 407.1 196.5 407.8C198.8 408.5 201.1 409.2 203.4 409.8C205.6 410.4 207.9 411 210.2 411.6C212.5 412.1 214.8 412.6 217.1 413.2C219.4 413.7 221.7 414.2 224 414.6C226.3 415.1 228.6 415.6 230.9 416.1C233.2 416.5 235.5 417 237.8 417.4C240.1 417.8 242.4 418.2 244.7 418.6C247 419 249.4 419.4 251.7 419.8C254 420.2 256.3 420.5 258.6 420.8C261 421.2 263.3 421.5 265.6 421.8C268 422.1 270.3 422.4 272.6 422.6C275 422.9 277.3 423.1 279.6 423.3C282 423.5 284.3 423.7 286.7 423.8C289 424 291.3 424.1 293.7 424.2C296 424.3 298.4 424.4 300.7 424.4C303.1 424.4 305.4 424.4 307.8 424.4C310.1 424.4 312.5 424.4 314.8 424.3C317.2 424.2 319.5 424.1 321.8 424C324.2 423.9 326.5 423.7 328.9 423.6C331.2 423.4 333.6 423.2 335.9 423C338.2 422.8 340.6 422.6 342.9 422.4C345.3 422.2 347.6 422 349.9 421.8C352.3 421.6 354.6 421.5 357 421.3C359.3 421.1 361.6 420.9 364 420.8C366.3 420.6 368.7 420.5 371 420.4C373.4 420.2 375.7 420.1 378 420C380.4 419.9 382.7 419.9 385.1 419.8C387.4 419.7 389.8 419.6 392.1 419.6C394.5 419.5 396.8 419.4 399.2 419.4C401.5 419.3 403.9 419.3 406.2 419.2C408.5 419.2 410.9 419.1 413.2 419.1C415.6 419 417.9 419 420.3 419C422.6 418.9 425 418.9 427.3 418.8C429.7 418.8 432 418.7 434.4 418.7C436.7 418.6 439.1 418.6 441.4 418.5C443.8 418.5 446.1 418.4 448.5 418.4C450.8 418.3 453.2 418.3 455.5 418.2C457.9 418.2 460.2 418.2 462.6 418.1C464.9 418.1 467.3 418.1 469.6 418.1C472 418.1 474.3 418.1 476.7 418.1C479 418.1 481.4 418.1 483.7 418.1C486.1 418.2 488.4 418.2 490.8 418.2C493.1 418.3 495.5 418.4 497.8 418.4C500.1 418.5 502.5 418.6 504.8 418.7C507.2 418.8 509.5 419 511.8 419.1C514.2 419.3 516.5 419.4 518.9 419.6C521.2 419.8 523.5 420 525.9 420.2C528.2 420.4 530.5 420.6 532.9 420.8C535.2 421 537.5 421.2 539.9 421.5C542.2 421.7 544.5 422 546.9 422.2C549.2 422.5 551.6 422.7 553.9 423C556.2 423.2 558.6 423.5 560.9 423.7C563.2 424 565.6 424.2 567.9 424.5C570.2 424.7 572.6 425 574.9 425.2C577.2 425.5 579.6 425.7 581.9 425.9C584.3 426.2 586.6 426.4 588.9 426.6C591.3 426.8 593.6 427 596 427.2C598.3 427.4 600.7 427.6 603 427.8C605.4 428 607.7 428.1 610 428.3C612.4 428.5 614.7 428.6 617.1 428.8C619.4 429 621.8 429.1 624.1 429.3C626.5 429.5 628.8 429.7 631.1 429.9C633.5 430.1 635.8 430.3 638.2 430.5C640.5 430.7 642.8 430.9 645.2 431.2C647.5 431.4 649.8 431.7 652.1 432C654.5 432.3 656.8 432.6 659.1 432.9C661.4 433.2 663.7 433.6 666 434C668.3 434.4 670.7 434.8 673 435.2C675.3 435.6 677.6 436 679.9 436.5C682.2 437 684.5 437.4 686.8 437.9C689 438.4 691.3 438.9 693.6 439.4C695.9 439.9 698.2 440.4 700.5 440.9C702.8 441.4 705.1 441.9 707.4 442.4C709.7 442.9 712 443.4 714.3 444C716.7 444.5 719 445 721.3 445.5C723.6 446.1 725.9 446.8 728.2 447.4C730.5 448.1 732.8 448.7 735.1 449.5C737.3 450.2 739.6 451 741.8 451.9C743.9 452.8 746.1 453.7 748.2 454.8C750.3 455.8 752.4 457 754.4 458.2C756.4 459.4 758.4 460.6 760.4 461.9C762.3 463.2 764.2 464.6 766.1 466C768 467.4 769.9 468.9 771.7 470.4C773.5 471.9 775.4 473.4 777.2 475C779 476.5 780.7 478.1 782.5 479.6C784.3 481.2 786.1 482.8 787.8 484.4C789.6 485.9 791.4 487.6 793.2 489.2C795 490.8 796.8 492.4 798.6 493.9C800.4 495.4 802.2 497 804.1 498.4C806 499.8 807.9 501.1 809.8 502.4C811.8 503.6 813.8 504.8 815.8 505.8C817.9 506.8 820 507.7 822.2 508.4C824.3 509.2 826.6 509.8 828.9 510.3C831.1 510.8 833.4 511.2 835.8 511.4C838.1 511.7 840.4 511.8 842.8 511.9C845.1 512 847.5 512 849.8 512.1C852.2 512.2 854.5 512.3 856.9 512.6C859.2 512.8 861.5 513.1 863.8 513.5C866.1 513.9 868.4 514.4 870.7 515C873 515.5 875.2 516 877.4 516.7C879.7 517.4 882.9 518.7 884 519.1"/>
<path d="M142.7 309.4C143 310.5 144 313.9 144.5 316.2C145.1 318.5 145.6 320.8 146.1 323.1C146.6 325.4 147.1 327.7 147.6 330C148 332.3 148.5 334.6 149 336.9C149.5 339.2 150 341.5 150.5 343.8C151 346.1 151.6 348.3 152.1 350.6C152.7 352.9 153.2 355.2 153.8 357.5C154.3 359.8 154.9 362.1 155.5 364.3C156.1 366.6 156.7 368.9 157.3 371.2C157.9 373.4 158.6 375.7 159.2 378C159.9 380.2 160.5 382.5 161.3 384.8C162 387 162.7 389.3 163.5 391.5C164.4 393.7 165.2 395.8 166.3 397.9C167.3 400 168.5 402 169.9 403.8C171.2 405.7 172.7 407.5 174.3 409.1C176 410.8 177.7 412.3 179.6 413.8C181.4 415.3 183.4 416.6 185.4 417.9C187.4 419.2 189.5 420.4 191.6 421.6C193.7 422.7 195.8 423.8 198 424.9C200.1 425.9 202.3 426.9 204.4 427.8C206.6 428.7 208.8 429.6 211 430.5C213.2 431.3 215.4 432.1 217.6 432.9C219.9 433.7 222.1 434.5 224.3 435.2C226.6 435.9 228.8 436.6 231.1 437.3C233.3 438 235.6 438.6 237.8 439.2C240.1 439.8 242.4 440.4 244.7 440.9C247 441.4 249.3 441.9 251.6 442.3C253.9 442.8 256.2 443.2 258.5 443.5C260.9 443.9 263.2 444.3 265.5 444.6C267.9 444.9 270.2 445.2 272.5 445.5C274.9 445.8 277.2 446 279.5 446.3C281.9 446.5 284.2 446.8 286.6 447C288.9 447.2 291.3 447.3 293.6 447.5C296 447.6 298.3 447.8 300.7 447.9C303 448 305.4 448.1 307.7 448.1C310.1 448.2 312.4 448.2 314.8 448.2C317.1 448.2 319.5 448.2 321.8 448.1C324.2 448 326.5 448 328.9 447.9C331.2 447.8 333.6 447.6 335.9 447.5C338.2 447.4 340.6 447.2 342.9 447C345.3 446.9 347.6 446.7 350 446.5C352.3 446.4 354.7 446.2 357 446C359.4 445.9 361.7 445.7 364.1 445.6C366.4 445.4 368.8 445.3 371.1 445.1C373.5 445 375.8 444.8 378.2 444.7C380.5 444.6 382.8 444.5 385.2 444.3C387.5 444.2 389.9 444.1 392.2 444C394.6 443.9 396.9 443.8 399.3 443.7C401.6 443.6 404 443.5 406.3 443.4C408.7 443.3 411 443.2 413.4 443.1C415.7 443.1 418.1 443 420.4 442.9C422.8 442.8 425.1 442.8 427.5 442.7C429.8 442.6 432.2 442.6 434.5 442.5C436.9 442.5 439.3 442.4 441.6 442.4C444 442.3 446.3 442.3 448.7 442.2C451 442.2 453.4 442.1 455.7 442.1C458.1 442.1 460.4 442.1 462.8 442.1C465.1 442 467.5 442 469.8 442C472.2 442 474.5 442 476.9 442.1C479.2 442.1 481.6 442.1 483.9 442.1C486.3 442.2 488.6 442.2 491 442.3C493.4 442.3 495.7 442.4 498.1 442.4C500.4 442.5 502.8 442.6 505.1 442.7C507.4 442.8 509.8 442.9 512.1 443C514.5 443.1 516.8 443.2 519.2 443.3C521.5 443.5 523.9 443.6 526.2 443.7C528.6 443.9 530.9 444.1 533.3 444.2C535.6 444.4 538 444.6 540.3 444.7C542.6 444.9 545 445.1 547.3 445.3C549.7 445.5 552 445.7 554.4 445.9C556.7 446.1 559.1 446.3 561.4 446.5C563.7 446.7 566.1 446.9 568.4 447.1C570.8 447.3 573.1 447.5 575.5 447.8C577.8 448 580.1 448.2 582.5 448.4C584.8 448.6 587.2 448.9 589.5 449.1C591.9 449.3 594.2 449.5 596.5 449.7C598.9 449.9 601.2 450.2 603.6 450.4C605.9 450.6 608.2 450.8 610.6 451C612.9 451.3 615.3 451.5 617.6 451.7C620 452 622.3 452.2 624.6 452.4C627 452.7 629.3 452.9 631.7 453.1C634 453.4 636.3 453.6 638.7 453.9C641 454.2 643.3 454.4 645.7 454.7C648 455 650.3 455.3 652.7 455.6C655 455.8 657.3 456.1 659.7 456.5C662 456.8 664.3 457.1 666.7 457.4C669 457.8 671.3 458.1 673.6 458.5C676 458.8 678.3 459.2 680.6 459.6C682.9 460 685.2 460.4 687.5 460.8C689.9 461.2 692.2 461.6 694.5 462.1C696.8 462.5 699.1 463 701.4 463.5C703.7 464 706 464.4 708.3 465C710.6 465.5 712.9 466 715.2 466.6C717.5 467.1 719.8 467.7 722.1 468.3C724.4 468.9 726.6 469.5 728.9 470.2C731.2 470.8 733.4 471.5 735.7 472.2C737.9 472.9 740.2 473.7 742.4 474.5C744.6 475.3 746.8 476.1 749 477C751.1 477.9 753.3 478.8 755.4 479.8C757.5 480.8 759.6 481.9 761.7 483C763.8 484.1 765.8 485.3 767.8 486.5C769.8 487.8 771.8 489 773.7 490.4C775.7 491.7 777.6 493 779.5 494.4C781.4 495.8 783.3 497.2 785.2 498.6C787 500.1 788.9 501.5 790.7 503C792.6 504.4 794.4 505.9 796.3 507.4C798.1 508.9 799.9 510.4 801.8 511.8C803.6 513.3 805.5 514.8 807.4 516.2C809.3 517.6 811.2 519 813.1 520.3C815.1 521.6 817 522.9 819.1 524.1C821.1 525.2 823.2 526.3 825.3 527.3C827.4 528.3 829.6 529.3 831.8 530C834 530.8 836.2 531.5 838.5 532.1C840.7 532.7 843 533.1 845.4 533.5C847.7 533.9 850 534.2 852.3 534.6C854.7 534.9 857 535.3 859.3 535.7C861.6 536.2 863.9 536.7 866.2 537.3C868.5 537.8 870.7 538.5 872.9 539.2C875.2 539.9 877.4 540.7 879.6 541.6C881.7 542.5 884.9 544 886 544.5"/>
<path d="M142.7 309.4C142.9 310.5 143.7 314 144.2 316.3C144.6 318.6 145 320.9 145.5 323.2C145.9 325.5 146.3 327.9 146.7 330.2C147.1 332.5 147.5 334.8 147.9 337.1C148.4 339.4 148.8 341.7 149.3 344C149.7 346.4 150.2 348.7 150.7 351C151.1 353.3 151.6 355.6 152.1 357.9C152.6 360.2 153.1 362.5 153.7 364.7C154.2 367 154.8 369.3 155.3 371.6C155.9 373.9 156.5 376.2 157.1 378.4C157.7 380.7 158.3 383 159 385.3C159.6 387.5 160.2 389.8 160.9 392.1C161.6 394.3 162.3 396.6 163.2 398.8C164 401 164.8 403.2 165.9 405.3C166.9 407.3 168 409.4 169.3 411.3C170.6 413.2 172 415 173.6 416.8C175.1 418.5 176.8 420.2 178.6 421.8C180.3 423.3 182.2 424.8 184.1 426.3C186 427.7 188 429 190 430.4C192 431.7 194 432.9 196.1 434.1C198.1 435.3 200.2 436.4 202.3 437.5C204.4 438.6 206.6 439.6 208.7 440.6C210.8 441.6 213 442.5 215.2 443.5C217.3 444.4 219.5 445.2 221.7 446.1C223.9 446.9 226.1 447.7 228.4 448.5C230.6 449.2 232.8 450 235.1 450.7C237.3 451.4 239.6 452 241.8 452.6C244.1 453.2 246.4 453.8 248.7 454.4C251 454.9 253.3 455.4 255.6 455.9C257.9 456.3 260.2 456.8 262.5 457.2C264.8 457.6 267.2 457.9 269.5 458.3C271.8 458.6 274.2 458.9 276.5 459.2C278.8 459.5 281.2 459.7 283.5 459.9C285.9 460.1 288.2 460.3 290.6 460.4C292.9 460.5 295.3 460.6 297.6 460.7C300 460.8 302.3 460.8 304.7 460.8C307 460.8 309.4 460.8 311.7 460.8C314.1 460.7 316.4 460.7 318.8 460.6C321.1 460.5 323.5 460.4 325.8 460.3C328.2 460.2 330.5 460.1 332.9 460C335.2 459.8 337.6 459.7 339.9 459.5C342.3 459.4 344.6 459.2 347 459.1C349.3 458.9 351.7 458.8 354 458.6C356.3 458.5 358.7 458.3 361 458.1C363.4 458 365.7 457.8 368.1 457.7C370.4 457.6 372.8 457.4 375.1 457.3C377.5 457.1 379.8 457 382.2 456.9C384.5 456.7 386.9 456.6 389.2 456.5C391.6 456.4 393.9 456.3 396.3 456.1C398.6 456 401 455.9 403.3 455.8C405.7 455.7 408 455.6 410.4 455.5C412.7 455.4 415.1 455.3 417.4 455.2C419.8 455.2 422.1 455.1 424.5 455C426.8 454.9 429.2 454.8 431.5 454.8C433.9 454.7 436.2 454.6 438.6 454.6C440.9 454.5 443.3 454.5 445.6 454.4C448 454.4 450.3 454.3 452.7 454.3C455 454.3 457.4 454.2 459.8 454.2C462.1 454.2 464.5 454.2 466.8 454.2C469.2 454.2 471.5 454.2 473.9 454.2C476.2 454.2 478.6 454.2 480.9 454.2C483.3 454.3 485.6 454.3 488 454.4C490.3 454.4 492.7 454.5 495 454.5C497.4 454.6 499.7 454.7 502.1 454.7C504.4 454.8 506.8 454.9 509.1 455C511.5 455.1 513.8 455.3 516.2 455.4C518.5 455.5 520.9 455.6 523.2 455.8C525.6 455.9 527.9 456.1 530.3 456.3C532.6 456.4 535 456.6 537.3 456.8C539.6 456.9 542 457.1 544.3 457.3C546.7 457.5 549 457.7 551.4 457.9C553.7 458.1 556.1 458.3 558.4 458.5C560.7 458.7 563.1 458.9 565.4 459.1C567.8 459.3 570.1 459.6 572.5 459.8C574.8 460 577.1 460.2 579.5 460.4C581.8 460.7 584.2 460.9 586.5 461.1C588.9 461.3 591.2 461.5 593.5 461.7C595.9 462 598.2 462.2 600.6 462.4C602.9 462.6 605.3 462.8 607.6 463C609.9 463.3 612.3 463.5 614.6 463.7C617 463.9 619.3 464.1 621.6 464.4C624 464.6 626.3 464.8 628.7 465.1C631 465.3 633.3 465.6 635.7 465.8C638 466.1 640.4 466.3 642.7 466.6C645 466.9 647.4 467.2 649.7 467.4C652 467.7 654.4 468 656.7 468.3C659 468.7 661.4 469 663.7 469.3C666 469.7 668.3 470 670.7 470.4C673 470.7 675.3 471.1 677.6 471.5C680 471.9 682.3 472.3 684.6 472.8C686.9 473.2 689.2 473.7 691.5 474.2C693.8 474.6 696.1 475.1 698.4 475.6C700.7 476.2 703 476.7 705.3 477.3C707.6 477.8 709.9 478.4 712.1 479.1C714.4 479.7 716.7 480.3 718.9 481C721.2 481.7 723.5 482.4 725.7 483.1C728 483.8 730.2 484.6 732.4 485.4C734.6 486.2 736.8 487 739 487.9C741.2 488.8 743.4 489.7 745.5 490.7C747.7 491.6 749.8 492.7 751.9 493.7C754 494.8 756.1 495.9 758.1 497.1C760.1 498.2 762.1 499.5 764.1 500.7C766.1 502 768 503.4 769.9 504.7C771.8 506.1 773.7 507.5 775.6 508.9C777.5 510.3 779.3 511.8 781.2 513.2C783 514.7 784.9 516.2 786.7 517.7C788.5 519.2 790.3 520.7 792.1 522.2C793.9 523.7 795.7 525.2 797.6 526.7C799.4 528.2 801.2 529.7 803.1 531.1C804.9 532.6 806.8 534.1 808.7 535.5C810.5 536.9 812.4 538.3 814.4 539.6C816.3 540.9 818.3 542.2 820.3 543.4C822.4 544.6 824.4 545.8 826.5 546.8C828.6 547.9 830.8 548.8 832.9 549.7C835.1 550.5 837.3 551.3 839.6 551.9C841.8 552.5 844.1 552.9 846.4 553.4C848.8 553.8 851.1 554.1 853.4 554.4C855.8 554.7 858.1 555 860.5 555.3C862.8 555.6 865.2 555.9 867.5 556.3C869.8 556.7 872.1 557.1 874.3 557.7C876.6 558.3 878.8 558.9 881 559.7C883.2 560.5 886.4 562 887.5 562.5"/>
<path d="M142.7 309.4C142.9 310.6 143.4 314 143.8 316.3C144.1 318.6 144.4 320.9 144.8 323.3C145.1 325.6 145.4 327.9 145.8 330.2C146.1 332.5 146.5 334.8 146.8 337.1C147.2 339.4 147.6 341.7 147.9 344C148.3 346.3 148.7 348.6 149.1 350.9C149.5 353.2 149.9 355.5 150.4 357.8C150.8 360.1 151.2 362.4 151.7 364.7C152.2 367 152.7 369.3 153.2 371.5C153.7 373.8 154.2 376.1 154.8 378.4C155.3 380.6 155.9 382.9 156.4 385.2C157 387.4 157.6 389.7 158.2 392C158.9 394.2 159.5 396.5 160.2 398.7C160.8 400.9 161.5 403.2 162.3 405.4C163.1 407.6 163.9 409.7 164.9 411.8C165.9 413.9 167.1 415.9 168.3 417.9C169.5 419.8 170.9 421.7 172.4 423.5C173.8 425.3 175.4 427.1 177 428.7C178.6 430.4 180.3 432.1 182.1 433.6C183.8 435.2 185.7 436.7 187.5 438.1C189.4 439.6 191.3 441 193.3 442.3C195.3 443.6 197.3 444.8 199.3 446C201.3 447.2 203.4 448.3 205.4 449.4C207.5 450.5 209.6 451.5 211.7 452.5C213.8 453.5 216 454.5 218.1 455.4C220.3 456.3 222.5 457.2 224.6 458C226.8 458.9 229 459.7 231.2 460.4C233.4 461.2 235.6 461.9 237.9 462.6C240.1 463.3 242.4 463.9 244.6 464.5C246.9 465.1 249.2 465.6 251.4 466.1C253.7 466.6 256 467.1 258.3 467.5C260.6 468 262.9 468.4 265.2 468.8C267.5 469.1 269.8 469.5 272.1 469.8C274.4 470.2 276.8 470.5 279.1 470.8C281.4 471.1 283.7 471.3 286 471.6C288.4 471.8 290.7 472 293 472.2C295.3 472.4 297.7 472.5 300 472.7C302.3 472.8 304.7 472.9 307 472.9C309.3 473 311.7 473 314 473C316.3 473 318.7 473 321 472.9C323.3 472.9 325.7 472.8 328 472.7C330.3 472.6 332.7 472.5 335 472.4C337.3 472.3 339.7 472.1 342 472C344.3 471.8 346.7 471.6 349 471.5C351.3 471.3 353.6 471.1 356 470.9C358.3 470.8 360.6 470.6 363 470.4C365.3 470.2 367.6 470 369.9 469.8C372.3 469.6 374.6 469.5 376.9 469.3C379.3 469.1 381.6 468.9 383.9 468.8C386.2 468.6 388.6 468.4 390.9 468.2C393.2 468.1 395.6 467.9 397.9 467.8C400.2 467.6 402.5 467.5 404.9 467.3C407.2 467.2 409.5 467 411.9 466.9C414.2 466.8 416.5 466.7 418.9 466.6C421.2 466.4 423.5 466.3 425.9 466.2C428.2 466.1 430.5 466.1 432.9 466C435.2 465.9 437.5 465.9 439.9 465.8C442.2 465.7 444.5 465.7 446.9 465.7C449.2 465.6 451.5 465.6 453.9 465.6C456.2 465.6 458.5 465.6 460.9 465.6C463.2 465.6 465.6 465.6 467.9 465.6C470.2 465.6 472.6 465.7 474.9 465.7C477.2 465.7 479.6 465.8 481.9 465.9C484.2 465.9 486.6 466 488.9 466.1C491.2 466.2 493.6 466.2 495.9 466.4C498.2 466.5 500.6 466.6 502.9 466.7C505.2 466.8 507.6 466.9 509.9 467.1C512.2 467.2 514.6 467.4 516.9 467.5C519.2 467.7 521.5 467.9 523.9 468C526.2 468.2 528.5 468.4 530.9 468.6C533.2 468.8 535.5 469 537.8 469.2C540.2 469.4 542.5 469.6 544.8 469.8C547.1 470 549.5 470.2 551.8 470.5C554.1 470.7 556.4 470.9 558.8 471.1C561.1 471.3 563.4 471.6 565.7 471.8C568.1 472 570.4 472.2 572.7 472.5C575 472.7 577.3 472.9 579.7 473.1C582 473.4 584.3 473.6 586.7 473.8C589 474 591.3 474.2 593.6 474.4C596 474.7 598.3 474.9 600.6 475.1C602.9 475.3 605.3 475.5 607.6 475.7C609.9 475.9 612.2 476.1 614.6 476.3C616.9 476.5 619.2 476.7 621.6 477C623.9 477.2 626.2 477.4 628.5 477.6C630.8 477.9 633.2 478.1 635.5 478.4C637.8 478.6 640.1 478.9 642.5 479.1C644.8 479.4 647.1 479.7 649.4 480C651.7 480.3 654 480.6 656.3 481C658.6 481.3 661 481.6 663.3 482C665.6 482.4 667.9 482.8 670.2 483.2C672.5 483.6 674.8 484 677 484.5C679.3 484.9 681.6 485.4 683.9 485.9C686.2 486.4 688.5 486.9 690.8 487.4C693 488 695.3 488.5 697.6 489.1C699.8 489.7 702.1 490.3 704.3 490.9C706.6 491.5 708.9 492.2 711.1 492.8C713.3 493.5 715.6 494.2 717.8 494.9C720 495.6 722.3 496.3 724.5 497.1C726.7 497.9 728.9 498.7 731.1 499.5C733.3 500.3 735.5 501.2 737.6 502.1C739.8 503 742 503.9 744.1 504.9C746.2 505.8 748.3 506.8 750.4 507.9C752.5 508.9 754.5 510 756.6 511.2C758.6 512.3 760.6 513.5 762.6 514.7C764.6 516 766.5 517.3 768.4 518.6C770.3 519.9 772.2 521.3 774.1 522.7C776 524.1 777.8 525.6 779.6 527C781.4 528.5 783.2 530.1 784.9 531.6C786.7 533.1 788.4 534.7 790.1 536.3C791.9 537.9 793.6 539.5 795.3 541.1C797 542.7 798.7 544.3 800.4 545.9C802.1 547.5 803.8 549.1 805.6 550.7C807.3 552.2 809.1 553.8 810.8 555.3C812.6 556.8 814.5 558.3 816.3 559.7C818.2 561.1 820.1 562.4 822.1 563.7C824 564.9 826.1 566.1 828.1 567.2C830.2 568.2 832.3 569.2 834.4 570C836.6 570.9 838.8 571.6 841.1 572.2C843.3 572.7 845.6 573.2 847.9 573.6C850.2 574 852.5 574.3 854.8 574.6C857.1 575 859.5 575.4 861.8 575.8C864.1 576.2 866.4 576.7 868.6 577.3C870.9 577.8 873.1 578.5 875.3 579.2C877.5 580 879.6 580.8 881.8 581.8C883.9 582.8 887 584.5 888 585"/>
<path d="M142.7 309.4C142.8 310.6 143.2 314.1 143.4 316.4C143.6 318.7 143.9 321.1 144.1 323.4C144.4 325.7 144.6 328.1 144.9 330.4C145.1 332.7 145.4 335.1 145.7 337.4C146 339.7 146.3 342 146.7 344.4C147 346.7 147.3 349 147.6 351.3C148 353.6 148.3 356 148.7 358.3C149.1 360.6 149.5 362.9 149.9 365.2C150.3 367.5 150.7 369.8 151.2 372.1C151.6 374.4 152.1 376.7 152.6 379C153.1 381.3 153.6 383.6 154.1 385.9C154.6 388.2 155.2 390.5 155.7 392.8C156.3 395.1 156.8 397.4 157.4 399.7C158 402 158.5 404.3 159.2 406.5C159.8 408.8 160.5 411.1 161.2 413.3C162 415.5 162.8 417.7 163.8 419.8C164.8 421.9 165.8 423.9 167.1 425.8C168.3 427.7 169.8 429.6 171.3 431.3C172.7 433.1 174.4 434.8 176 436.6C177.6 438.3 179.3 439.9 180.9 441.6C182.6 443.3 184.2 445.1 185.8 446.8C187.5 448.4 189.1 450.1 190.8 451.8C192.5 453.4 194.2 455 195.9 456.6C197.7 458.1 199.5 459.6 201.4 461.1C203.2 462.5 205.1 463.9 207 465.2C209 466.5 211 467.8 213 469C215 470.2 217 471.4 219.1 472.5C221.1 473.7 223.2 474.7 225.3 475.8C227.4 476.8 229.6 477.8 231.7 478.7C233.9 479.6 236.1 480.5 238.2 481.4C240.4 482.2 242.6 483 244.9 483.8C247.1 484.5 249.3 485.2 251.6 485.9C253.8 486.6 256.1 487.3 258.3 487.9C260.6 488.5 262.9 489.1 265.2 489.7C267.4 490.2 269.7 490.8 272 491.3C274.3 491.8 276.6 492.3 278.9 492.8C281.2 493.3 283.5 493.7 285.8 494.1C288.1 494.5 290.4 494.9 292.8 495.2C295.1 495.5 297.4 495.7 299.8 495.9C302.1 496.1 304.4 496.2 306.8 496.3C309.1 496.5 311.5 496.5 313.8 496.6C316.2 496.7 318.5 496.7 320.9 496.7C323.2 496.8 325.6 496.8 327.9 496.8C330.2 496.8 332.6 496.8 334.9 496.7C337.3 496.7 339.6 496.7 342 496.6C344.3 496.5 346.7 496.4 349 496.2C351.3 496.1 353.7 495.9 356 495.7C358.4 495.6 360.7 495.4 363 495.2C365.4 495 367.7 494.8 370 494.6C372.4 494.4 374.7 494.2 377.1 494C379.4 493.8 381.7 493.6 384.1 493.4C386.4 493.2 388.7 493 391.1 492.8C393.4 492.6 395.8 492.4 398.1 492.2C400.4 492 402.8 491.8 405.1 491.6C407.4 491.4 409.8 491.3 412.1 491.1C414.5 490.9 416.8 490.7 419.1 490.6C421.5 490.4 423.8 490.2 426.2 490.1C428.5 489.9 430.9 489.8 433.2 489.7C435.5 489.5 437.9 489.4 440.2 489.3C442.6 489.2 444.9 489.1 447.3 489C449.6 488.9 452 488.8 454.3 488.8C456.6 488.7 459 488.6 461.3 488.6C463.7 488.5 466 488.5 468.4 488.4C470.7 488.4 473.1 488.4 475.4 488.4C477.8 488.4 480.1 488.4 482.5 488.4C484.8 488.4 487.2 488.4 489.5 488.5C491.8 488.5 494.2 488.5 496.5 488.6C498.9 488.7 501.2 488.7 503.6 488.8C505.9 488.9 508.3 489 510.6 489.1C513 489.2 515.3 489.3 517.6 489.4C520 489.6 522.3 489.7 524.7 489.9C527 490 529.3 490.2 531.7 490.3C534 490.5 536.4 490.7 538.7 490.9C541 491.1 543.4 491.3 545.7 491.5C548.1 491.7 550.4 491.9 552.7 492.1C555.1 492.3 557.4 492.5 559.7 492.7C562.1 493 564.4 493.2 566.7 493.4C569.1 493.7 571.4 493.9 573.7 494.1C576.1 494.4 578.4 494.6 580.7 494.9C583.1 495.1 585.4 495.4 587.7 495.6C590.1 495.9 592.4 496.1 594.7 496.4C597.1 496.6 599.4 496.9 601.7 497.2C604.1 497.4 606.4 497.7 608.7 497.9C611.1 498.2 613.4 498.5 615.7 498.7C618 499 620.4 499.3 622.7 499.5C625 499.8 627.4 500.1 629.7 500.4C632 500.7 634.3 501 636.7 501.3C639 501.6 641.3 501.9 643.7 502.2C646 502.5 648.3 502.8 650.6 503.1C653 503.5 655.3 503.8 657.6 504.1C659.9 504.5 662.3 504.8 664.6 505.2C666.9 505.6 669.2 505.9 671.5 506.3C673.9 506.7 676.2 507.1 678.5 507.5C680.8 507.9 683.1 508.4 685.4 508.8C687.7 509.3 690 509.8 692.3 510.3C694.6 510.8 696.9 511.3 699.2 511.8C701.5 512.4 703.7 512.9 706 513.5C708.3 514.1 710.5 514.8 712.8 515.4C715 516.1 717.3 516.8 719.5 517.5C721.7 518.2 724 519 726.2 519.8C728.4 520.6 730.6 521.4 732.8 522.2C734.9 523.1 737.1 524 739.3 524.9C741.5 525.8 743.6 526.7 745.8 527.7C747.9 528.6 750.1 529.6 752.2 530.6C754.3 531.6 756.4 532.6 758.5 533.6C760.7 534.7 762.8 535.7 764.8 536.8C766.9 537.9 769 539 771 540.2C773 541.4 775 542.6 777 543.9C778.9 545.2 780.8 546.6 782.7 548C784.5 549.4 786.3 550.9 788.1 552.4C789.9 554 791.6 555.5 793.3 557.1C795.1 558.7 796.8 560.3 798.5 561.9C800.2 563.5 802 565.1 803.7 566.7C805.4 568.3 807.2 569.9 808.9 571.5C810.6 573.1 812.4 574.6 814.2 576.2C815.9 577.7 817.7 579.3 819.5 580.8C821.3 582.3 823.2 583.8 825 585.2C826.9 586.6 828.8 588 830.7 589.3C832.7 590.6 834.7 591.8 836.7 592.9C838.8 594 840.9 594.9 843 595.8C845.2 596.7 847.4 597.4 849.6 598.2C851.8 599 854.1 599.7 856.3 600.5C858.5 601.2 860.7 602 862.9 602.9C865.1 603.8 867.2 604.7 869.4 605.7C871.5 606.6 873.6 607.6 875.7 608.6C877.9 609.6 880 610.7 882.1 611.7C884.1 612.8 887.3 614.5 888.3 615"/>
</g>
<path d="M867.6 326.0 L874.1 336.0 L878.9 346.0 L882.0 353.6 L885.0 363.0 L887.0 372.0 L888.0 375.0 L891.5 389.0 L892.0 400.0 L892.0 540.0 L891.0 590.0 L889.6 616.0 L888.2 616.0 L887.0 590.0 L884.6 539.0 L880.0 490.0 L874.6 440.0 L873.0 425.0 L870.3 395.5 L867.3 372.0 L863.9 353.6 L860.5 338.0 L857.5 326.0Z" fill="#000"/>
<g fill="none" stroke="#000" stroke-width="6.4" stroke-linecap="round" stroke-linejoin="round">
<path d="M68.4 677.8V4.6H963.4V677.8"/>
<path d="M68.4 671.1H963.4" stroke-linecap="butt"/>
<line x1="143.0" y1="671.1" x2="143.0" y2="684.3"/><line x1="217.6" y1="671.1" x2="217.6" y2="677.8"/><line x1="292.2" y1="671.1" x2="292.2" y2="684.3"/><line x1="366.8" y1="671.1" x2="366.8" y2="677.8"/><line x1="441.4" y1="671.1" x2="441.4" y2="684.3"/><line x1="516.0" y1="671.1" x2="516.0" y2="677.8"/><line x1="590.6" y1="671.1" x2="590.6" y2="684.3"/><line x1="665.2" y1="671.1" x2="665.2" y2="677.8"/><line x1="739.8" y1="671.1" x2="739.8" y2="684.3"/><line x1="814.4" y1="671.1" x2="814.4" y2="677.8"/><line x1="889.0" y1="671.1" x2="889.0" y2="684.3"/>
</g>
<g fill="none" stroke="#000" stroke-width="7" stroke-linecap="round">
<path d="M122.1 518H171.8"/><path d="M120.8 601H165.3"/><path d="M145 518V601" stroke-width="7.4" stroke-linecap="butt"/>
</g>
<path d="M741.4 547.2C760 553 775 563 788 577C797 587 805 597 812 604" fill="none" stroke="#000" stroke-width="2.4" stroke-linecap="round"/>
<path d="M821.3 613.7L804.7 604.3L814.3 596.8Z" fill="#000"/>
<g font-family="'Liberation Sans', Arial, sans-serif" font-weight="700" font-size="38.4" text-anchor="middle" fill="#000">
<text x="143.0" y="722.9">-0.2</text><text x="292.2" y="722.9">0.0</text><text x="441.4" y="722.9">0.2</text><text x="590.6" y="722.9">0.4</text><text x="739.8" y="722.9">0.6</text><text x="889.0" y="722.9">0.8</text>
</g>
<text transform="translate(517.2 770.8) scale(0.965 1)" font-family="'Liberation Sans', Arial, sans-serif" font-weight="700" font-size="40.3" text-anchor="middle" fill="#0f8a0f">E / V</text>
<text x="161" y="574.1" fill="#15894a" font-family="'Liberation Sans', Arial, sans-serif" font-weight="700" font-size="39">10</text>
<text x="204.6" y="574.1" fill="#15894a" font-family="'Liberation Serif', 'Times New Roman', serif" font-weight="700" font-size="38">μA</text>
<path d="M162 569.5H169.9V574.6H162ZM175.8 569.5H182V574.6H175.8Z" fill="#fff"/>
<text transform="translate(39.4 432.2) rotate(-90) scale(0.945 1)" font-family="'Liberation Serif', 'Times New Roman', serif" font-weight="700" font-size="54.5" fill="#176b17">current</text>
</svg>
</body></html>
